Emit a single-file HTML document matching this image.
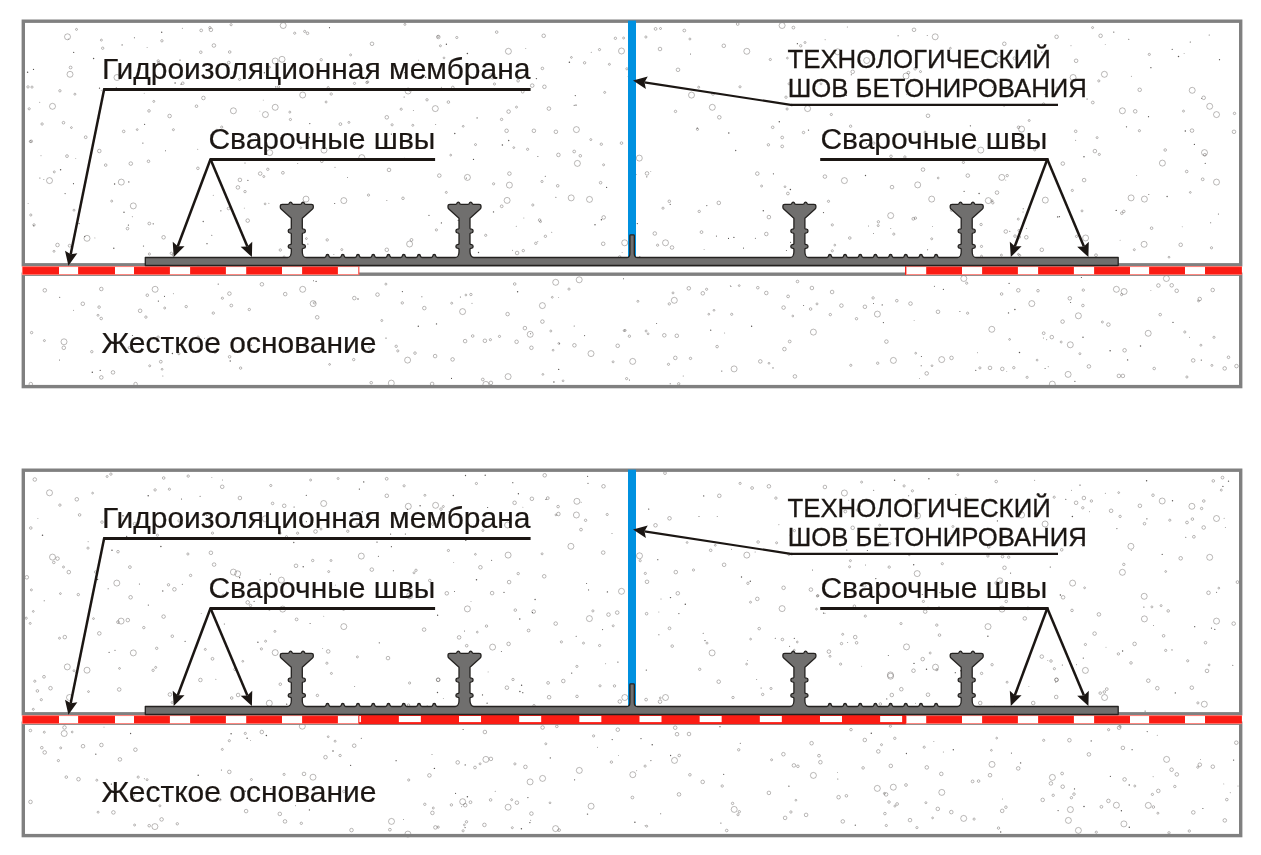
<!DOCTYPE html>
<html lang="ru"><head><meta charset="utf-8"><title>Гидроизоляционная мембрана</title>
<style>html,body{margin:0;padding:0;background:#fff}svg{display:block;will-change:transform}</style></head>
<body><svg width="1261" height="855" viewBox="0 0 1261 855"><g><rect x="23.3" y="21.2" width="1217.4" height="243.6" fill="#fff"/><rect x="23.3" y="274.2" width="1217.4" height="112.4" fill="#fff"/><g fill="none" stroke="#4c4846" stroke-width="0.38"><circle cx="67.5" cy="36.8" r="3"/><circle cx="70.0" cy="74.3" r="3"/><circle cx="52.5" cy="106.3" r="3"/><circle cx="49.5" cy="180.6" r="3"/><circle cx="121.3" cy="182.1" r="3"/><circle cx="133.3" cy="205.9" r="3"/><circle cx="117.0" cy="77.5" r="3"/><circle cx="283.2" cy="25.5" r="3"/><circle cx="282.0" cy="59.3" r="3"/><circle cx="275.2" cy="61.0" r="3"/><circle cx="302.7" cy="95.0" r="3"/><circle cx="275.2" cy="107.3" r="3"/><circle cx="233.4" cy="110.8" r="3"/><circle cx="265.4" cy="114.6" r="3"/><circle cx="324.0" cy="150.1" r="3"/><circle cx="269.7" cy="152.6" r="3"/><circle cx="306.0" cy="199.1" r="3"/><circle cx="508.4" cy="51.3" r="3"/><circle cx="621.5" cy="51.0" r="3"/><circle cx="435.3" cy="108.6" r="3"/><circle cx="576.4" cy="129.6" r="3"/><circle cx="577.4" cy="163.4" r="3"/><circle cx="467.4" cy="177.4" r="3"/><circle cx="509.4" cy="185.1" r="3"/><circle cx="507.1" cy="200.4" r="3"/><circle cx="571.2" cy="197.9" r="3"/><circle cx="589.5" cy="199.4" r="3"/><circle cx="343.8" cy="200.6" r="3"/><circle cx="408.1" cy="91.0" r="3"/><circle cx="361.8" cy="157.6" r="3"/><circle cx="492.6" cy="76.0" r="3"/><circle cx="782.1" cy="25.5" r="3"/><circle cx="935.2" cy="36.8" r="3"/><circle cx="746.8" cy="51.3" r="3"/><circle cx="691.5" cy="95.1" r="3"/><circle cx="712.3" cy="107.3" r="3"/><circle cx="807.6" cy="108.6" r="3"/><circle cx="639.3" cy="158.1" r="3"/><circle cx="844.4" cy="180.6" r="3"/><circle cx="917.7" cy="184.9" r="3"/><circle cx="931.7" cy="199.1" r="3"/><circle cx="890.7" cy="215.6" r="3"/><circle cx="906.0" cy="76.0" r="3"/><circle cx="866.7" cy="60.5" r="3"/><circle cx="837.7" cy="51.8" r="3"/><circle cx="1104.4" cy="74.3" r="3"/><circle cx="1192.2" cy="90.3" r="3"/><circle cx="1209.7" cy="106.3" r="3"/><circle cx="1216.5" cy="114.6" r="3"/><circle cx="1122.4" cy="110.8" r="3"/><circle cx="1204.5" cy="152.6" r="3"/><circle cx="1162.4" cy="163.1" r="3"/><circle cx="1216.5" cy="182.1" r="3"/><circle cx="1131.1" cy="197.9" r="3"/><circle cx="1144.4" cy="199.1" r="3"/><circle cx="1045.3" cy="200.1" r="3"/><circle cx="1001.8" cy="177.4" r="3"/><circle cx="988.3" cy="200.6" r="3"/><circle cx="1021.6" cy="129.1" r="3"/><circle cx="980.8" cy="150.1" r="3"/><circle cx="1073.1" cy="77.5" r="3"/><circle cx="1000.0" cy="59.3" r="3"/><circle cx="87.0" cy="238.3" r="3"/><circle cx="155.1" cy="289.3" r="3"/><circle cx="302.7" cy="289.3" r="3"/><circle cx="313.2" cy="303.6" r="3"/><circle cx="64.0" cy="341.8" r="3"/><circle cx="409.6" cy="244.0" r="3"/><circle cx="624.7" cy="242.8" r="3"/><circle cx="555.7" cy="282.3" r="3"/><circle cx="579.2" cy="279.8" r="3"/><circle cx="542.4" cy="305.6" r="3"/><circle cx="462.6" cy="311.6" r="3"/><circle cx="530.2" cy="334.3" r="3"/><circle cx="407.6" cy="360.1" r="3"/><circle cx="591.0" cy="353.6" r="3"/><circle cx="632.7" cy="361.4" r="3"/><circle cx="508.1" cy="376.6" r="3"/><circle cx="391.3" cy="383.1" r="3"/><circle cx="485.9" cy="384.4" r="3"/><circle cx="665.5" cy="242.8" r="3"/><circle cx="674.3" cy="300.3" r="3"/><circle cx="813.4" cy="332.1" r="3"/><circle cx="877.4" cy="314.1" r="3"/><circle cx="893.4" cy="360.4" r="3"/><circle cx="734.1" cy="368.9" r="3"/><circle cx="941.7" cy="359.6" r="3"/><circle cx="1144.1" cy="244.3" r="3"/><circle cx="1085.6" cy="238.0" r="3"/><circle cx="963.8" cy="278.5" r="3"/><circle cx="1166.4" cy="278.5" r="3"/><circle cx="1116.4" cy="289.3" r="3"/><circle cx="1124.1" cy="291.5" r="3"/><circle cx="1031.8" cy="303.6" r="3"/><circle cx="1078.4" cy="315.8" r="3"/><circle cx="991.8" cy="329.3" r="3"/><circle cx="1148.2" cy="333.3" r="3"/><circle cx="1070.3" cy="344.8" r="3"/><circle cx="1068.1" cy="374.4" r="3"/><circle cx="1052.3" cy="384.1" r="3"/><circle cx="213.9" cy="45.5" r="1.8"/><circle cx="210.9" cy="29.8" r="1.8"/><circle cx="203.4" cy="98.0" r="1.8"/><circle cx="169.6" cy="116.0" r="1.8"/><circle cx="99.3" cy="151.0" r="1.8"/><circle cx="130.8" cy="163.6" r="1.8"/><circle cx="260.2" cy="173.6" r="1.8"/><circle cx="239.9" cy="179.9" r="1.8"/><circle cx="237.9" cy="187.4" r="1.8"/><circle cx="247.7" cy="220.6" r="1.8"/><circle cx="372.0" cy="43.8" r="1.8"/><circle cx="438.3" cy="37.0" r="1.8"/><circle cx="386.8" cy="117.3" r="1.8"/><circle cx="508.6" cy="111.6" r="1.8"/><circle cx="533.9" cy="130.8" r="1.8"/><circle cx="555.9" cy="131.8" r="1.8"/><circle cx="558.4" cy="154.9" r="1.8"/><circle cx="439.3" cy="175.6" r="1.8"/><circle cx="389.0" cy="169.9" r="1.8"/><circle cx="509.4" cy="173.6" r="1.8"/><circle cx="506.6" cy="130.8" r="1.8"/><circle cx="603.7" cy="217.4" r="1.8"/><circle cx="532.2" cy="85.6" r="1.8"/><circle cx="544.4" cy="86.8" r="1.8"/><circle cx="543.7" cy="35.8" r="1.8"/><circle cx="548.9" cy="108.6" r="1.8"/><circle cx="660.0" cy="49.0" r="1.8"/><circle cx="723.8" cy="45.8" r="1.8"/><circle cx="678.0" cy="69.8" r="1.8"/><circle cx="719.3" cy="117.3" r="1.8"/><circle cx="647.0" cy="173.4" r="1.8"/><circle cx="757.3" cy="173.6" r="1.8"/><circle cx="824.9" cy="176.6" r="1.8"/><circle cx="892.0" cy="187.1" r="1.8"/><circle cx="923.0" cy="169.6" r="1.8"/><circle cx="768.9" cy="217.1" r="1.8"/><circle cx="718.8" cy="202.9" r="1.8"/><circle cx="928.0" cy="115.8" r="1.8"/><circle cx="914.0" cy="29.8" r="1.8"/><circle cx="852.7" cy="71.8" r="1.8"/><circle cx="1056.6" cy="36.8" r="1.8"/><circle cx="1076.1" cy="60.8" r="1.8"/><circle cx="1139.7" cy="89.8" r="1.8"/><circle cx="1203.7" cy="97.8" r="1.8"/><circle cx="1192.0" cy="130.6" r="1.8"/><circle cx="1234.0" cy="131.8" r="1.8"/><circle cx="1094.9" cy="151.1" r="1.8"/><circle cx="1084.1" cy="180.1" r="1.8"/><circle cx="1062.8" cy="163.6" r="1.8"/><circle cx="967.8" cy="175.6" r="1.8"/><circle cx="997.0" cy="192.6" r="1.8"/><circle cx="1135.2" cy="111.3" r="1.8"/><circle cx="1100.6" cy="35.8" r="1.8"/><circle cx="1004.3" cy="43.8" r="1.8"/><circle cx="57.5" cy="245.0" r="1.8"/><circle cx="163.6" cy="237.3" r="1.8"/><circle cx="44.8" cy="290.3" r="1.8"/><circle cx="82.8" cy="303.8" r="1.8"/><circle cx="140.1" cy="310.8" r="1.8"/><circle cx="229.4" cy="293.6" r="1.8"/><circle cx="261.9" cy="284.3" r="1.8"/><circle cx="285.2" cy="294.1" r="1.8"/><circle cx="63.8" cy="347.8" r="1.8"/><circle cx="101.3" cy="289.0" r="1.8"/><circle cx="113.0" cy="372.4" r="1.8"/><circle cx="101.3" cy="377.4" r="1.8"/><circle cx="135.6" cy="384.1" r="1.8"/><circle cx="30.8" cy="384.1" r="1.8"/><circle cx="317.2" cy="317.3" r="1.8"/><circle cx="386.8" cy="249.8" r="1.8"/><circle cx="603.2" cy="243.8" r="1.8"/><circle cx="354.3" cy="298.1" r="1.8"/><circle cx="465.1" cy="341.1" r="1.8"/><circle cx="484.9" cy="340.8" r="1.8"/><circle cx="516.6" cy="341.8" r="1.8"/><circle cx="542.4" cy="321.6" r="1.8"/><circle cx="524.9" cy="328.1" r="1.8"/><circle cx="617.7" cy="345.8" r="1.8"/><circle cx="432.1" cy="383.9" r="1.8"/><circle cx="490.9" cy="382.9" r="1.8"/><circle cx="507.6" cy="314.1" r="1.8"/><circle cx="424.3" cy="308.1" r="1.8"/><circle cx="377.5" cy="294.6" r="1.8"/><circle cx="531.4" cy="347.8" r="1.8"/><circle cx="435.1" cy="356.1" r="1.8"/><circle cx="452.6" cy="359.4" r="1.8"/><circle cx="574.4" cy="345.3" r="1.8"/><circle cx="517.1" cy="253.0" r="1.8"/><circle cx="688.8" cy="288.3" r="1.8"/><circle cx="702.8" cy="293.3" r="1.8"/><circle cx="676.8" cy="335.8" r="1.8"/><circle cx="675.3" cy="357.9" r="1.8"/><circle cx="811.9" cy="288.0" r="1.8"/><circle cx="783.6" cy="307.6" r="1.8"/><circle cx="864.9" cy="306.8" r="1.8"/><circle cx="910.5" cy="303.6" r="1.8"/><circle cx="938.0" cy="311.8" r="1.8"/><circle cx="886.4" cy="341.6" r="1.8"/><circle cx="951.5" cy="357.9" r="1.8"/><circle cx="926.7" cy="373.4" r="1.8"/><circle cx="784.4" cy="349.1" r="1.8"/><circle cx="794.9" cy="376.4" r="1.8"/><circle cx="841.4" cy="305.6" r="1.8"/><circle cx="672.0" cy="247.5" r="1.8"/><circle cx="654.8" cy="233.5" r="1.8"/><circle cx="766.3" cy="234.0" r="1.8"/><circle cx="664.3" cy="335.3" r="1.8"/><circle cx="766.3" cy="293.0" r="1.8"/><circle cx="832.1" cy="292.0" r="1.8"/><circle cx="760.3" cy="361.4" r="1.8"/><circle cx="1005.8" cy="231.5" r="1.8"/><circle cx="1026.3" cy="237.3" r="1.8"/><circle cx="1041.8" cy="249.8" r="1.8"/><circle cx="1180.7" cy="244.8" r="1.8"/><circle cx="1171.7" cy="285.3" r="1.8"/><circle cx="1176.7" cy="290.8" r="1.8"/><circle cx="1212.7" cy="290.0" r="1.8"/><circle cx="1199.7" cy="299.0" r="1.8"/><circle cx="1108.4" cy="324.6" r="1.8"/><circle cx="1124.6" cy="350.3" r="1.8"/><circle cx="1193.2" cy="360.4" r="1.8"/><circle cx="1236.5" cy="366.1" r="1.8"/><circle cx="1088.9" cy="366.4" r="1.8"/><circle cx="1118.9" cy="375.9" r="1.8"/><circle cx="1122.9" cy="375.9" r="1.8"/><circle cx="990.0" cy="367.9" r="1.8"/><circle cx="1002.3" cy="368.9" r="1.8"/><circle cx="1018.3" cy="290.3" r="1.8"/><circle cx="1069.8" cy="298.3" r="1.8"/><circle cx="1062.6" cy="321.6" r="1.8"/><circle cx="1051.8" cy="337.1" r="1.8"/><circle cx="1224.7" cy="368.4" r="1.8"/><circle cx="1158.4" cy="285.5" r="1.8"/><circle cx="675.5" cy="111.4" r="1.2"/><circle cx="71.4" cy="127.6" r="0.9"/><circle cx="540.5" cy="221.6" r="1.0"/><circle cx="200.8" cy="52.2" r="1.3"/><circle cx="689.9" cy="39.0" r="1.0"/><circle cx="850.6" cy="126.2" r="1.2"/><circle cx="321.8" cy="161.3" r="1.3"/><circle cx="532.8" cy="205.0" r="1.1"/><circle cx="600.6" cy="182.7" r="1.3"/><circle cx="493.6" cy="183.8" r="1.1"/><circle cx="229.7" cy="52.0" r="1.3"/><circle cx="182.8" cy="83.2" r="1.3"/><circle cx="123.7" cy="131.4" r="1.3"/><circle cx="1019.0" cy="230.5" r="1.1"/><circle cx="239.6" cy="79.4" r="1.1"/><circle cx="740.0" cy="86.8" r="1.1"/><circle cx="501.6" cy="119.4" r="1.2"/><circle cx="101.4" cy="40.1" r="1.0"/><circle cx="438.1" cy="36.6" r="1.0"/><circle cx="149.0" cy="110.9" r="1.3"/><circle cx="770.3" cy="59.5" r="1.1"/><circle cx="590.8" cy="139.6" r="1.0"/><circle cx="54.0" cy="251.3" r="1.0"/><circle cx="684.3" cy="30.5" r="1.4"/><circle cx="1072.3" cy="190.4" r="1.1"/><circle cx="228.5" cy="208.5" r="1.3"/><circle cx="300.8" cy="147.7" r="0.9"/><circle cx="59.9" cy="90.8" r="1.2"/><circle cx="1183.5" cy="111.1" r="1.0"/><circle cx="935.2" cy="138.2" r="1.3"/><circle cx="450.7" cy="155.1" r="0.9"/><circle cx="1202.7" cy="179.3" r="1.4"/><circle cx="331.2" cy="94.0" r="1.2"/><circle cx="340.4" cy="124.1" r="1.4"/><circle cx="535.8" cy="243.3" r="1.2"/><circle cx="660.5" cy="28.5" r="1.0"/><circle cx="30.8" cy="215.0" r="1.1"/><circle cx="904.9" cy="157.0" r="1.2"/><circle cx="699.2" cy="211.4" r="1.2"/><circle cx="768.4" cy="144.8" r="1.2"/><circle cx="574.2" cy="151.5" r="1.4"/><circle cx="173.4" cy="129.7" r="1.0"/><circle cx="1096.0" cy="255.2" r="1.4"/><circle cx="221.7" cy="127.1" r="1.1"/><circle cx="697.5" cy="129.3" r="1.1"/><circle cx="782.2" cy="146.4" r="1.4"/><circle cx="981.5" cy="256.2" r="1.0"/><circle cx="74.0" cy="210.2" r="1.0"/><circle cx="127.5" cy="228.6" r="1.3"/><circle cx="350.6" cy="54.9" r="1.0"/><circle cx="158.7" cy="62.6" r="1.0"/><circle cx="632.1" cy="66.5" r="0.9"/><circle cx="1018.5" cy="127.3" r="1.3"/><circle cx="516.5" cy="107.1" r="1.0"/><circle cx="111.7" cy="201.1" r="1.0"/><circle cx="367.7" cy="81.9" r="1.1"/><circle cx="216.9" cy="130.6" r="1.4"/><circle cx="1204.8" cy="154.8" r="1.4"/><circle cx="401.2" cy="109.2" r="1.1"/><circle cx="601.3" cy="144.2" r="1.2"/><circle cx="32.0" cy="87.1" r="1.1"/><circle cx="76.5" cy="29.4" r="1.0"/><circle cx="893.8" cy="234.1" r="1.1"/><circle cx="915.4" cy="218.1" r="1.2"/><circle cx="304.7" cy="31.4" r="1.1"/><circle cx="785.0" cy="186.7" r="0.9"/><circle cx="992.8" cy="202.8" r="1.2"/><circle cx="922.7" cy="257.2" r="1.1"/><circle cx="805.0" cy="42.5" r="1.0"/><circle cx="845.0" cy="93.5" r="1.1"/><circle cx="1211.5" cy="247.8" r="1.1"/><circle cx="1019.7" cy="255.4" r="1.0"/><circle cx="280.3" cy="250.0" r="1.2"/><circle cx="306.4" cy="238.6" r="0.9"/><circle cx="30.4" cy="141.5" r="1.1"/><circle cx="196.5" cy="106.2" r="1.3"/><circle cx="463.2" cy="126.3" r="0.9"/><circle cx="149.3" cy="223.5" r="1.4"/><circle cx="328.2" cy="87.5" r="1.0"/><circle cx="938.2" cy="178.0" r="0.9"/><circle cx="1149.3" cy="54.4" r="1.1"/><circle cx="228.8" cy="62.6" r="1.4"/><circle cx="571.4" cy="57.4" r="0.9"/><circle cx="440.4" cy="45.8" r="1.0"/><circle cx="527.6" cy="149.3" r="1.1"/><circle cx="354.5" cy="83.4" r="1.1"/><circle cx="737.7" cy="24.0" r="1.4"/><circle cx="158.2" cy="60.9" r="1.2"/><circle cx="580.3" cy="155.8" r="1.3"/><circle cx="161.9" cy="40.8" r="1.2"/><circle cx="1097.1" cy="137.6" r="1.0"/><circle cx="1190.3" cy="192.4" r="0.9"/><circle cx="630.0" cy="185.2" r="1.0"/><circle cx="834.8" cy="245.1" r="0.9"/><circle cx="992.0" cy="200.7" r="1.0"/><circle cx="294.4" cy="205.8" r="1.4"/><circle cx="626.9" cy="68.8" r="1.1"/><circle cx="832.3" cy="250.8" r="1.1"/><circle cx="284.1" cy="256.8" r="0.9"/><circle cx="831.3" cy="114.5" r="1.1"/><circle cx="231.1" cy="24.7" r="1.1"/><circle cx="85.7" cy="137.2" r="1.4"/><circle cx="931.7" cy="238.8" r="1.0"/><circle cx="1186.7" cy="171.5" r="1.3"/><circle cx="409.6" cy="89.9" r="1.3"/><circle cx="494.5" cy="84.0" r="1.1"/><circle cx="265.1" cy="203.9" r="0.9"/><circle cx="67.0" cy="156.1" r="1.4"/><circle cx="1096.8" cy="260.1" r="0.9"/><circle cx="920.5" cy="71.6" r="1.0"/><circle cx="506.0" cy="261.2" r="1.0"/><circle cx="74.9" cy="94.2" r="1.0"/><circle cx="1075.7" cy="131.3" r="1.3"/><circle cx="289.8" cy="112.1" r="1.0"/><circle cx="102.7" cy="48.2" r="1.2"/><circle cx="800.7" cy="45.8" r="1.2"/><circle cx="522.7" cy="91.7" r="1.4"/><circle cx="404.6" cy="159.4" r="1.1"/><circle cx="1073.5" cy="262.2" r="1.0"/><circle cx="908.4" cy="72.7" r="1.4"/><circle cx="539.6" cy="220.1" r="1.3"/><circle cx="584.6" cy="62.8" r="1.2"/><circle cx="802.5" cy="241.4" r="1.2"/><circle cx="475.5" cy="144.6" r="1.0"/><circle cx="657.6" cy="245.2" r="1.1"/><circle cx="1001.4" cy="255.1" r="1.0"/><circle cx="1169.0" cy="257.2" r="0.9"/><circle cx="290.4" cy="119.5" r="1.1"/><circle cx="786.0" cy="97.2" r="1.2"/><circle cx="542.0" cy="181.5" r="1.1"/><circle cx="54.3" cy="171.9" r="1.0"/><circle cx="951.4" cy="210.4" r="1.0"/><circle cx="599.5" cy="49.6" r="1.1"/><circle cx="137.2" cy="129.6" r="0.9"/><circle cx="645.9" cy="37.0" r="1.1"/><circle cx="913.3" cy="218.8" r="1.4"/><circle cx="981.5" cy="246.4" r="1.1"/><circle cx="1014.5" cy="58.3" r="1.4"/><circle cx="278.5" cy="86.8" r="1.1"/><circle cx="70.6" cy="67.5" r="1.4"/><circle cx="849.8" cy="238.0" r="1.3"/><circle cx="462.6" cy="206.7" r="1.0"/><circle cx="404.9" cy="24.4" r="1.0"/><circle cx="772.7" cy="127.3" r="1.3"/><circle cx="29.2" cy="108.8" r="1.1"/><circle cx="782.2" cy="137.5" r="1.4"/><circle cx="321.2" cy="59.7" r="1.2"/><circle cx="1082.0" cy="210.9" r="1.0"/><circle cx="327.2" cy="239.9" r="1.2"/><circle cx="518.1" cy="80.8" r="1.3"/><circle cx="267.8" cy="169.3" r="1.2"/><circle cx="1011.8" cy="65.7" r="1.1"/><circle cx="925.0" cy="132.1" r="1.0"/><circle cx="307.5" cy="33.3" r="1.3"/><circle cx="1092.6" cy="27.6" r="1.0"/><circle cx="1092.8" cy="102.5" r="1.4"/><circle cx="282.9" cy="172.8" r="1.4"/><circle cx="201.2" cy="30.4" r="1.4"/><circle cx="444.0" cy="57.9" r="0.9"/><circle cx="105.7" cy="165.1" r="1.3"/><circle cx="1019.3" cy="237.0" r="1.3"/><circle cx="1134.3" cy="249.7" r="1.0"/><circle cx="412.8" cy="125.3" r="1.0"/><circle cx="368.5" cy="195.1" r="1.1"/><circle cx="63.5" cy="122.7" r="1.3"/><circle cx="446.3" cy="192.4" r="1.0"/><circle cx="31.3" cy="141.3" r="1.3"/><circle cx="249.6" cy="142.2" r="1.3"/><circle cx="341.8" cy="249.6" r="1.0"/><circle cx="873.8" cy="143.1" r="1.2"/><circle cx="787.1" cy="109.0" r="1.1"/><circle cx="485.7" cy="235.3" r="1.1"/><circle cx="448.4" cy="102.1" r="1.3"/><circle cx="828.5" cy="201.3" r="1.1"/><circle cx="963.4" cy="162.4" r="1.1"/><circle cx="1098.8" cy="80.9" r="1.1"/><circle cx="878.2" cy="225.6" r="1.0"/><circle cx="326.1" cy="102.0" r="1.0"/><circle cx="149.4" cy="254.0" r="1.1"/><circle cx="263.8" cy="176.5" r="1.0"/><circle cx="496.7" cy="32.1" r="1.3"/><circle cx="197.9" cy="168.3" r="1.3"/><circle cx="803.5" cy="132.5" r="1.2"/><circle cx="789.1" cy="83.8" r="1.1"/><circle cx="619.7" cy="256.9" r="1.2"/><circle cx="148.5" cy="161.3" r="1.3"/><circle cx="523.3" cy="250.6" r="1.2"/><circle cx="501.7" cy="206.3" r="1.4"/><circle cx="456.8" cy="37.5" r="1.1"/><circle cx="42.1" cy="124.0" r="1.2"/><circle cx="452.8" cy="87.4" r="1.3"/><circle cx="1165.2" cy="150.0" r="1.3"/><circle cx="501.1" cy="74.7" r="1.3"/><circle cx="1007.2" cy="175.6" r="1.2"/><circle cx="299.9" cy="254.4" r="1.2"/><circle cx="1018.3" cy="219.1" r="1.0"/><circle cx="1057.0" cy="87.9" r="1.0"/><circle cx="542.4" cy="68.4" r="1.3"/><circle cx="366.8" cy="82.5" r="1.1"/><circle cx="1151.6" cy="228.2" r="1.3"/><circle cx="1123.8" cy="211.4" r="1.3"/><circle cx="793.4" cy="27.6" r="1.4"/><circle cx="821.0" cy="83.8" r="1.0"/><circle cx="309.2" cy="209.5" r="1.0"/><circle cx="1121.8" cy="213.2" r="1.3"/><circle cx="981.1" cy="224.5" r="1.2"/><circle cx="669.3" cy="201.3" r="1.3"/><circle cx="698.7" cy="87.2" r="1.0"/><circle cx="623.6" cy="38.0" r="1.0"/><circle cx="621.5" cy="143.1" r="1.3"/><circle cx="34.0" cy="224.9" r="1.2"/><circle cx="832.3" cy="224.9" r="1.1"/><circle cx="426.5" cy="258.6" r="1.1"/><circle cx="436.4" cy="229.9" r="1.1"/><circle cx="663.0" cy="208.2" r="1.1"/><circle cx="1029.2" cy="120.5" r="1.0"/><circle cx="427.0" cy="99.8" r="1.2"/><circle cx="795.4" cy="211.4" r="1.3"/><circle cx="1099.3" cy="154.4" r="1.1"/><circle cx="950.4" cy="48.2" r="0.9"/><circle cx="392.1" cy="124.8" r="1.1"/><circle cx="803.8" cy="247.2" r="1.2"/><circle cx="1139.4" cy="130.7" r="1.1"/><circle cx="209.9" cy="27.7" r="1.2"/><circle cx="173.5" cy="255.0" r="1.3"/><circle cx="915.1" cy="68.8" r="1.3"/><circle cx="787.9" cy="193.5" r="1.4"/><circle cx="403.0" cy="198.3" r="1.3"/><circle cx="615.4" cy="38.3" r="1.2"/><circle cx="557.7" cy="185.8" r="1.3"/><circle cx="713.0" cy="93.9" r="1.4"/><circle cx="878.4" cy="221.8" r="1.2"/><circle cx="545.4" cy="236.3" r="1.2"/><circle cx="28.0" cy="86.9" r="1.2"/><circle cx="1015.0" cy="236.1" r="1.3"/><circle cx="761.6" cy="186.0" r="1.0"/><circle cx="603.6" cy="164.8" r="1.0"/><circle cx="245.0" cy="191.6" r="1.2"/><circle cx="513.8" cy="147.6" r="0.9"/><circle cx="1234.5" cy="113.4" r="1.2"/><circle cx="655.6" cy="28.9" r="1.4"/><circle cx="1018.4" cy="254.3" r="0.9"/><circle cx="269.6" cy="67.2" r="0.9"/><circle cx="701.5" cy="232.1" r="1.4"/><circle cx="171.3" cy="253.3" r="1.2"/><circle cx="294.7" cy="33.2" r="1.1"/><circle cx="153.8" cy="101.4" r="1.0"/><circle cx="609.4" cy="64.3" r="1.0"/><circle cx="69.6" cy="245.7" r="1.4"/><circle cx="1076.5" cy="236.4" r="1.1"/><circle cx="787.4" cy="58.1" r="0.9"/><circle cx="891.0" cy="156.3" r="1.3"/><circle cx="348.9" cy="122.4" r="1.0"/><circle cx="1043.6" cy="103.9" r="1.1"/><circle cx="411.5" cy="239.9" r="1.4"/><circle cx="604.7" cy="92.4" r="1.0"/><circle cx="1004.1" cy="105.5" r="0.9"/><circle cx="1034.7" cy="149.9" r="1.1"/><circle cx="1009.6" cy="339.4" r="0.9"/><circle cx="1082.9" cy="305.5" r="1.3"/><circle cx="470.9" cy="294.5" r="1.2"/><circle cx="31.6" cy="332.6" r="1.2"/><circle cx="415.0" cy="353.1" r="1.3"/><circle cx="648.1" cy="333.8" r="0.9"/><circle cx="1198.5" cy="300.9" r="1.0"/><circle cx="329.6" cy="364.4" r="0.9"/><circle cx="873.1" cy="297.9" r="1.2"/><circle cx="1079.9" cy="353.7" r="1.0"/><circle cx="624.2" cy="330.6" r="1.0"/><circle cx="1027.1" cy="377.3" r="1.1"/><circle cx="1043.7" cy="333.2" r="1.4"/><circle cx="967.6" cy="313.2" r="1.1"/><circle cx="1013.8" cy="367.7" r="1.2"/><circle cx="1186.9" cy="377.0" r="1.1"/><circle cx="792.8" cy="316.0" r="0.9"/><circle cx="550.8" cy="331.0" r="1.0"/><circle cx="396.2" cy="346.3" r="1.2"/><circle cx="1184.8" cy="332.0" r="1.1"/><circle cx="673.0" cy="292.9" r="1.0"/><circle cx="381.8" cy="320.5" r="1.0"/><circle cx="717.1" cy="346.6" r="1.3"/><circle cx="402.3" cy="302.9" r="1.2"/><circle cx="490.4" cy="339.7" r="1.1"/><circle cx="371.2" cy="382.7" r="1.3"/><circle cx="101.2" cy="318.5" r="1.3"/><circle cx="213.3" cy="313.1" r="1.2"/><circle cx="499.5" cy="336.4" r="1.1"/><circle cx="979.9" cy="367.9" r="1.1"/><circle cx="249.3" cy="309.5" r="1.2"/><circle cx="542.9" cy="374.4" r="0.9"/><circle cx="678.7" cy="383.8" r="1.2"/><circle cx="856.5" cy="318.7" r="1.2"/><circle cx="145.9" cy="317.1" r="1.2"/><circle cx="668.5" cy="364.3" r="1.1"/><circle cx="1211.9" cy="365.4" r="1.0"/><circle cx="1102.4" cy="322.0" r="1.0"/><circle cx="646.1" cy="331.0" r="1.0"/><circle cx="789.7" cy="341.5" r="1.4"/><circle cx="797.5" cy="281.5" r="1.3"/><circle cx="397.8" cy="350.9" r="1.1"/><circle cx="629.4" cy="336.2" r="1.2"/><circle cx="147.3" cy="295.2" r="1.3"/><circle cx="769.0" cy="363.3" r="0.9"/><circle cx="231.3" cy="305.5" r="1.4"/><circle cx="731.7" cy="314.3" r="1.1"/><circle cx="558.8" cy="343.4" r="0.9"/><circle cx="1154.2" cy="368.5" r="1.3"/><circle cx="626.6" cy="378.6" r="1.1"/><circle cx="896.8" cy="300.7" r="1.3"/><circle cx="613.1" cy="361.8" r="1.0"/><circle cx="706.6" cy="289.3" r="1.1"/><circle cx="514.7" cy="284.0" r="1.3"/><circle cx="451.7" cy="303.2" r="1.0"/><circle cx="214.9" cy="352.5" r="1.0"/><circle cx="1038.0" cy="290.7" r="1.3"/><circle cx="1001.6" cy="294.0" r="1.3"/><circle cx="482.8" cy="379.5" r="1.4"/><circle cx="637.9" cy="301.3" r="1.0"/><circle cx="1083.3" cy="290.1" r="1.2"/><circle cx="353.7" cy="359.6" r="1.2"/><circle cx="714.0" cy="310.3" r="0.9"/><circle cx="240.6" cy="368.1" r="1.2"/><circle cx="158.1" cy="337.1" r="1.2"/><circle cx="385.9" cy="284.1" r="1.0"/><circle cx="178.9" cy="353.7" r="1.1"/><circle cx="186.2" cy="306.6" r="1.2"/><circle cx="830.3" cy="314.6" r="1.2"/><circle cx="788.1" cy="296.4" r="1.4"/><circle cx="915.7" cy="353.2" r="0.9"/><circle cx="222.4" cy="298.2" r="1.1"/><circle cx="553.1" cy="350.2" r="0.9"/><circle cx="1037.1" cy="360.1" r="0.9"/><circle cx="1061.2" cy="342.0" r="1.0"/><circle cx="160.8" cy="361.7" r="1.4"/><circle cx="932.0" cy="365.7" r="0.9"/><circle cx="91.8" cy="351.7" r="1.2"/><circle cx="877.7" cy="363.2" r="1.2"/><circle cx="1200.9" cy="345.2" r="1.0"/><circle cx="98.0" cy="315.3" r="1.0"/><circle cx="314.3" cy="302.9" r="1.1"/><circle cx="1160.2" cy="314.6" r="1.3"/><circle cx="198.0" cy="337.3" r="1.3"/><circle cx="690.5" cy="358.4" r="1.2"/><circle cx="164.7" cy="308.0" r="1.0"/><circle cx="99.1" cy="307.1" r="1.3"/><circle cx="569.0" cy="289.1" r="1.1"/><circle cx="465.9" cy="295.0" r="0.9"/><circle cx="1228.5" cy="357.3" r="1.3"/><circle cx="1214.0" cy="337.3" r="1.1"/><circle cx="552.3" cy="297.3" r="0.9"/><circle cx="817.0" cy="303.9" r="1.0"/><circle cx="472.7" cy="336.0" r="1.3"/><circle cx="625.2" cy="330.4" r="1.0"/><circle cx="563.1" cy="380.8" r="0.9"/><circle cx="369.3" cy="347.8" r="1.1"/><circle cx="1121.6" cy="294.6" r="1.1"/><circle cx="708.8" cy="314.2" r="0.9"/><circle cx="810.6" cy="309.0" r="1.3"/><circle cx="129.3" cy="347.7" r="1.2"/><circle cx="162.1" cy="369.3" r="0.9"/><circle cx="669.3" cy="303.9" r="1.2"/><circle cx="300.6" cy="338.3" r="1.2"/><circle cx="739.2" cy="285.6" r="0.9"/><circle cx="149.7" cy="365.8" r="1.0"/><circle cx="966.7" cy="283.2" r="1.1"/><circle cx="44.4" cy="340.6" r="1.0"/><circle cx="229.6" cy="356.8" r="1.3"/><circle cx="850.8" cy="365.3" r="1.1"/><circle cx="757.8" cy="287.7" r="1.3"/></g><g fill="#5a5654"><circle cx="418.5" cy="60.1" r="0.43"/><circle cx="786.4" cy="250.5" r="0.54"/><circle cx="1209.2" cy="35.1" r="0.50"/><circle cx="245.0" cy="163.0" r="0.53"/><circle cx="575.3" cy="95.6" r="0.64"/><circle cx="910.1" cy="92.8" r="0.44"/><circle cx="73.5" cy="183.7" r="0.60"/><circle cx="1087.1" cy="99.0" r="0.61"/><circle cx="728.8" cy="133.0" r="0.73"/><circle cx="810.3" cy="261.3" r="0.50"/><circle cx="460.8" cy="235.3" r="0.45"/><circle cx="473.5" cy="159.4" r="0.64"/><circle cx="650.8" cy="171.6" r="0.42"/><circle cx="1116.2" cy="210.4" r="0.68"/><circle cx="467.4" cy="53.4" r="0.75"/><circle cx="441.3" cy="87.3" r="0.46"/><circle cx="425.6" cy="77.3" r="0.74"/><circle cx="1059.4" cy="216.7" r="0.66"/><circle cx="1185.3" cy="130.9" r="0.75"/><circle cx="264.4" cy="72.8" r="0.72"/><circle cx="1044.6" cy="138.6" r="0.68"/><circle cx="128.8" cy="181.9" r="0.67"/><circle cx="429.0" cy="215.4" r="0.54"/><circle cx="512.5" cy="250.3" r="0.46"/><circle cx="180.0" cy="60.1" r="0.68"/><circle cx="203.2" cy="221.5" r="0.63"/><circle cx="551.8" cy="232.3" r="0.47"/><circle cx="454.8" cy="133.5" r="0.72"/><circle cx="327.2" cy="90.2" r="0.58"/><circle cx="706.8" cy="205.6" r="0.56"/><circle cx="873.5" cy="233.5" r="0.49"/><circle cx="704.1" cy="249.4" r="0.45"/><circle cx="114.6" cy="184.0" r="0.71"/><circle cx="213.2" cy="195.2" r="0.45"/><circle cx="508.7" cy="140.5" r="0.69"/><circle cx="263.2" cy="100.1" r="0.41"/><circle cx="537.8" cy="241.8" r="0.49"/><circle cx="207.0" cy="243.7" r="0.65"/><circle cx="134.4" cy="37.7" r="0.55"/><circle cx="113.8" cy="248.3" r="0.68"/><circle cx="576.0" cy="105.1" r="0.72"/><circle cx="404.1" cy="96.9" r="0.50"/><circle cx="329.5" cy="27.7" r="0.59"/><circle cx="255.6" cy="137.5" r="0.44"/><circle cx="502.4" cy="145.1" r="0.74"/><circle cx="441.4" cy="222.9" r="0.62"/><circle cx="128.4" cy="225.1" r="0.63"/><circle cx="735.7" cy="150.5" r="0.63"/><circle cx="1219.5" cy="59.7" r="0.63"/><circle cx="79.1" cy="223.6" r="0.62"/><circle cx="637.3" cy="223.6" r="0.69"/><circle cx="733.9" cy="237.4" r="0.64"/><circle cx="153.2" cy="223.8" r="0.62"/><circle cx="825.1" cy="39.8" r="0.49"/><circle cx="116.2" cy="87.5" r="0.47"/><circle cx="606.6" cy="187.4" r="0.62"/><circle cx="926.8" cy="96.8" r="0.40"/><circle cx="99.5" cy="88.2" r="0.64"/><circle cx="591.2" cy="52.3" r="0.47"/><circle cx="197.8" cy="149.3" r="0.45"/><circle cx="1020.1" cy="145.6" r="0.65"/><circle cx="28.1" cy="203.4" r="0.44"/><circle cx="1148.8" cy="194.4" r="0.50"/><circle cx="477.1" cy="117.9" r="0.61"/><circle cx="478.5" cy="252.5" r="0.68"/><circle cx="790.6" cy="242.3" r="0.59"/><circle cx="898.1" cy="35.8" r="0.56"/><circle cx="386.9" cy="200.6" r="0.49"/><circle cx="821.1" cy="95.9" r="0.54"/><circle cx="628.5" cy="76.6" r="0.75"/><circle cx="716.4" cy="236.1" r="0.54"/><circle cx="101.2" cy="90.3" r="0.44"/><circle cx="636.1" cy="174.5" r="0.48"/><circle cx="1182.2" cy="226.8" r="0.41"/><circle cx="65.1" cy="193.6" r="0.57"/><circle cx="1026.6" cy="228.5" r="0.49"/><circle cx="1167.1" cy="196.5" r="0.67"/><circle cx="307.9" cy="243.9" r="0.51"/><circle cx="181.1" cy="84.2" r="0.64"/><circle cx="496.4" cy="77.4" r="0.40"/><circle cx="391.4" cy="134.1" r="0.63"/><circle cx="435.7" cy="124.5" r="0.47"/><circle cx="1201.5" cy="98.5" r="0.48"/><circle cx="98.9" cy="118.0" r="0.71"/><circle cx="914.1" cy="262.4" r="0.52"/><circle cx="250.8" cy="247.7" r="0.41"/><circle cx="1184.1" cy="53.6" r="0.47"/><circle cx="458.2" cy="220.4" r="0.55"/><circle cx="259.9" cy="111.1" r="0.41"/><circle cx="523.9" cy="218.0" r="0.41"/><circle cx="68.2" cy="39.0" r="0.49"/><circle cx="1136.7" cy="175.5" r="0.41"/><circle cx="309.4" cy="137.6" r="0.73"/><circle cx="1150.9" cy="67.7" r="0.66"/><circle cx="1023.2" cy="208.7" r="0.51"/><circle cx="413.3" cy="110.5" r="0.43"/><circle cx="142.9" cy="143.1" r="0.56"/><circle cx="309.8" cy="123.6" r="0.64"/><circle cx="932.5" cy="226.4" r="0.44"/><circle cx="1045.1" cy="94.2" r="0.53"/><circle cx="211.8" cy="235.3" r="0.51"/><circle cx="1005.8" cy="180.1" r="0.44"/><circle cx="601.4" cy="219.8" r="0.72"/><circle cx="1205.2" cy="163.4" r="0.53"/><circle cx="1172.2" cy="49.3" r="0.62"/><circle cx="335.0" cy="167.3" r="0.47"/><circle cx="39.8" cy="102.2" r="0.46"/><circle cx="404.4" cy="72.6" r="0.59"/><circle cx="1148.5" cy="116.7" r="0.62"/><circle cx="1025.4" cy="62.3" r="0.48"/><circle cx="516.2" cy="226.3" r="0.46"/><circle cx="175.1" cy="83.0" r="0.71"/><circle cx="75.8" cy="158.4" r="0.41"/><circle cx="1041.9" cy="52.1" r="0.59"/><circle cx="797.4" cy="43.7" r="0.67"/><circle cx="1178.5" cy="56.5" r="0.75"/><circle cx="622.1" cy="252.6" r="0.46"/><circle cx="942.5" cy="61.9" r="0.50"/><circle cx="165.5" cy="150.8" r="0.53"/><circle cx="1084.0" cy="156.7" r="0.71"/><circle cx="152.8" cy="261.3" r="0.54"/><circle cx="992.8" cy="87.3" r="0.60"/><circle cx="927.2" cy="35.5" r="0.49"/><circle cx="800.8" cy="259.2" r="0.63"/><circle cx="186.0" cy="78.3" r="0.41"/><circle cx="297.8" cy="163.5" r="0.47"/><circle cx="39.9" cy="178.1" r="0.52"/><circle cx="808.5" cy="130.1" r="0.66"/><circle cx="41.0" cy="155.7" r="0.45"/><circle cx="84.8" cy="236.6" r="0.65"/><circle cx="33.7" cy="225.8" r="0.56"/><circle cx="868.5" cy="226.0" r="0.49"/><circle cx="697.2" cy="128.2" r="0.58"/><circle cx="347.5" cy="177.4" r="0.48"/><circle cx="927.6" cy="249.8" r="0.51"/><circle cx="790.4" cy="189.6" r="0.74"/><circle cx="595.0" cy="224.7" r="0.70"/><circle cx="555.9" cy="197.2" r="0.51"/><circle cx="865.5" cy="175.5" r="0.66"/><circle cx="161.7" cy="32.2" r="0.68"/><circle cx="794.6" cy="221.2" r="0.50"/><circle cx="147.1" cy="47.4" r="0.47"/><circle cx="1194.4" cy="144.4" r="0.62"/><circle cx="1071.0" cy="45.7" r="0.46"/><circle cx="27.6" cy="72.3" r="0.74"/><circle cx="124.0" cy="212.3" r="0.68"/><circle cx="1105.2" cy="44.6" r="0.41"/><circle cx="275.8" cy="86.9" r="0.58"/><circle cx="670.2" cy="204.3" r="0.63"/><circle cx="423.6" cy="69.2" r="0.66"/><circle cx="1218.4" cy="214.0" r="0.55"/><circle cx="866.4" cy="143.6" r="0.56"/><circle cx="1126.5" cy="126.8" r="0.66"/><circle cx="536.4" cy="78.6" r="0.71"/><circle cx="964.1" cy="191.3" r="0.64"/><circle cx="144.6" cy="124.3" r="0.65"/><circle cx="779.3" cy="121.8" r="0.73"/><circle cx="247.9" cy="180.4" r="0.54"/><circle cx="220.9" cy="210.8" r="0.58"/><circle cx="646.8" cy="176.8" r="0.58"/><circle cx="690.5" cy="53.9" r="0.52"/><circle cx="545.3" cy="176.3" r="0.53"/><circle cx="763.3" cy="210.7" r="0.71"/><circle cx="1190.3" cy="42.0" r="0.62"/><circle cx="60.6" cy="169.7" r="0.73"/><circle cx="1113.8" cy="32.1" r="0.62"/><circle cx="537.9" cy="156.4" r="0.50"/><circle cx="639.8" cy="257.0" r="0.68"/><circle cx="33.5" cy="69.4" r="0.61"/><circle cx="823.5" cy="212.6" r="0.61"/><circle cx="773.4" cy="173.8" r="0.61"/><circle cx="851.3" cy="74.8" r="0.56"/><circle cx="964.7" cy="242.5" r="0.53"/><circle cx="1023.0" cy="212.0" r="0.49"/><circle cx="73.7" cy="52.4" r="0.60"/><circle cx="743.5" cy="248.1" r="0.57"/><circle cx="525.8" cy="48.4" r="0.47"/><circle cx="182.3" cy="28.2" r="0.48"/><circle cx="890.8" cy="228.5" r="0.43"/><circle cx="333.9" cy="254.5" r="0.40"/><circle cx="43.9" cy="179.5" r="0.43"/><circle cx="466.3" cy="178.1" r="0.55"/><circle cx="493.5" cy="211.9" r="0.67"/><circle cx="1210.7" cy="222.7" r="0.51"/><circle cx="755.4" cy="238.2" r="0.50"/><circle cx="1009.8" cy="231.3" r="0.50"/><circle cx="1057.6" cy="216.9" r="0.72"/><circle cx="446.4" cy="44.3" r="0.68"/><circle cx="268.9" cy="203.3" r="0.48"/><circle cx="334.7" cy="203.5" r="0.56"/><circle cx="132.3" cy="216.8" r="0.48"/><circle cx="728.5" cy="238.4" r="0.58"/><circle cx="980.3" cy="61.3" r="0.52"/><circle cx="1075.7" cy="140.2" r="0.49"/><circle cx="970.4" cy="125.8" r="0.67"/><circle cx="1128.8" cy="39.3" r="0.54"/><circle cx="802.4" cy="252.6" r="0.54"/><circle cx="569.4" cy="62.2" r="0.75"/><circle cx="1120.1" cy="240.2" r="0.42"/><circle cx="979.1" cy="193.6" r="0.74"/><circle cx="93.6" cy="58.6" r="0.73"/><circle cx="846.4" cy="95.4" r="0.67"/><circle cx="847.3" cy="27.0" r="0.47"/><circle cx="143.5" cy="246.0" r="0.62"/><circle cx="574.2" cy="105.2" r="0.57"/><circle cx="94.9" cy="237.9" r="0.47"/><circle cx="467.5" cy="260.9" r="0.72"/><circle cx="144.2" cy="93.2" r="0.42"/><circle cx="906.5" cy="94.2" r="0.41"/><circle cx="1131.3" cy="76.2" r="0.45"/><circle cx="244.3" cy="208.1" r="0.47"/><circle cx="122.1" cy="44.9" r="0.57"/><circle cx="358.0" cy="299.0" r="0.65"/><circle cx="914.1" cy="320.7" r="0.42"/><circle cx="1008.5" cy="312.9" r="0.70"/><circle cx="623.5" cy="278.7" r="0.57"/><circle cx="172.4" cy="353.5" r="0.70"/><circle cx="100.2" cy="370.4" r="0.57"/><circle cx="724.7" cy="333.0" r="0.44"/><circle cx="517.6" cy="291.7" r="0.70"/><circle cx="204.4" cy="338.3" r="0.46"/><circle cx="553.9" cy="382.0" r="0.72"/><circle cx="1201.3" cy="360.1" r="0.62"/><circle cx="1006.8" cy="371.6" r="0.41"/><circle cx="803.6" cy="305.4" r="0.50"/><circle cx="683.2" cy="375.9" r="0.49"/><circle cx="656.6" cy="323.4" r="0.50"/><circle cx="132.5" cy="335.5" r="0.61"/><circle cx="584.6" cy="335.6" r="0.56"/><circle cx="1070.6" cy="302.5" r="0.57"/><circle cx="218.2" cy="284.1" r="0.55"/><circle cx="158.4" cy="301.1" r="0.66"/><circle cx="773.0" cy="367.9" r="0.58"/><circle cx="921.4" cy="356.5" r="0.57"/><circle cx="977.4" cy="352.8" r="0.44"/><circle cx="1081.4" cy="277.5" r="0.61"/><circle cx="629.4" cy="380.0" r="0.55"/><circle cx="975.8" cy="370.4" r="0.53"/><circle cx="574.2" cy="326.0" r="0.50"/><circle cx="730.9" cy="286.4" r="0.51"/><circle cx="1048.2" cy="366.7" r="0.47"/><circle cx="710.7" cy="330.2" r="0.67"/><circle cx="451.5" cy="378.4" r="0.58"/><circle cx="721.8" cy="371.1" r="0.57"/><circle cx="559.5" cy="343.8" r="0.52"/><circle cx="1110.1" cy="350.8" r="0.75"/><circle cx="1046.7" cy="339.7" r="0.47"/><circle cx="670.2" cy="383.7" r="0.54"/><circle cx="173.3" cy="293.8" r="0.44"/><circle cx="959.9" cy="311.5" r="0.52"/><circle cx="92.3" cy="372.3" r="0.74"/><circle cx="1014.9" cy="309.5" r="0.74"/><circle cx="460.4" cy="297.0" r="0.50"/><circle cx="313.5" cy="280.7" r="0.52"/><circle cx="882.2" cy="304.9" r="0.61"/><circle cx="472.0" cy="303.3" r="0.47"/><circle cx="1127.6" cy="359.9" r="0.70"/><circle cx="873.5" cy="303.6" r="0.52"/><circle cx="73.6" cy="310.3" r="0.46"/><circle cx="1043.4" cy="338.0" r="0.49"/><circle cx="934.4" cy="286.2" r="0.54"/><circle cx="1173.0" cy="322.4" r="0.64"/><circle cx="921.2" cy="365.8" r="0.56"/><circle cx="1150.9" cy="290.7" r="0.42"/><circle cx="402.4" cy="291.6" r="0.63"/><circle cx="751.6" cy="326.3" r="0.69"/><circle cx="1140.5" cy="346.0" r="0.73"/><circle cx="59.5" cy="359.9" r="0.50"/><circle cx="251.1" cy="345.3" r="0.72"/><circle cx="230.2" cy="361.0" r="0.66"/><circle cx="421.9" cy="296.7" r="0.51"/><circle cx="316.1" cy="281.4" r="0.62"/><circle cx="1019.5" cy="352.5" r="0.73"/><circle cx="730.3" cy="285.6" r="0.46"/><circle cx="558.7" cy="297.4" r="0.40"/><circle cx="1045.1" cy="368.5" r="0.55"/><circle cx="436.5" cy="323.9" r="0.69"/><circle cx="418.3" cy="326.3" r="0.72"/><circle cx="1074.9" cy="381.3" r="0.62"/><circle cx="1009.1" cy="283.4" r="0.61"/><circle cx="386.0" cy="338.1" r="0.57"/><circle cx="59.7" cy="297.2" r="0.56"/><circle cx="530.6" cy="333.7" r="0.54"/><circle cx="164.5" cy="296.3" r="0.59"/><circle cx="558.7" cy="369.4" r="0.65"/><circle cx="943.4" cy="289.3" r="0.65"/><circle cx="1189.6" cy="337.2" r="0.45"/><circle cx="883.4" cy="322.6" r="0.62"/><circle cx="1083.0" cy="337.2" r="0.70"/><circle cx="919.5" cy="378.4" r="0.42"/><circle cx="162.9" cy="376.0" r="0.49"/></g><rect x="23.3" y="21.2" width="1217.4" height="243.6" fill="none" stroke="#808080" stroke-width="3.4"/><rect x="23.3" y="274.2" width="1217.4" height="112.4" fill="none" stroke="#808080" stroke-width="3.4"/><rect x="628" y="20.6" width="8" height="245.4" fill="#0091e0"/><rect x="22" y="266.2" width="337.2" height="8.8" fill="#fb1c14"/><rect x="59" y="266.75" width="19.1" height="7.65" fill="#fff"/><rect x="115" y="266.75" width="19" height="7.65" fill="#fff"/><rect x="169.9" y="266.75" width="20.2" height="7.65" fill="#fff"/><rect x="225.9" y="266.75" width="20.3" height="7.65" fill="#fff"/><rect x="282" y="266.75" width="20.1" height="7.65" fill="#fff"/><rect x="337.9" y="266.75" width="20.5" height="7.65" fill="#fff"/><path d="M22 266.6H359.2M22 274.6H359.2" stroke="#ff8f88" stroke-width="0.8" fill="none"/><path d="M22.4 266.2V275" stroke="#ff8f88" stroke-width="0.8"/><path d="M358.8 266.2V275" stroke="#ff6a62" stroke-width="0.8"/><rect x="905.1" y="266.2" width="336.8" height="8.8" fill="#fb1c14"/><rect x="906.4" y="266.75" width="19.8" height="7.65" fill="#fff"/><rect x="962" y="266.75" width="20.1" height="7.65" fill="#fff"/><rect x="1017.9" y="266.75" width="20.2" height="7.65" fill="#fff"/><rect x="1073.9" y="266.75" width="20.2" height="7.65" fill="#fff"/><rect x="1130" y="266.75" width="19.1" height="7.65" fill="#fff"/><rect x="1185" y="266.75" width="20" height="7.65" fill="#fff"/><path d="M905.1 266.6H1241.9M905.1 274.6H1241.9" stroke="#ff8f88" stroke-width="0.8" fill="none"/><path d="M905.5 266.2V275" stroke="#fb1c14" stroke-width="0.8"/><path d="M145.3 265.5L145.3 257.5L287.4 257.5A3.9 5.4 0 0 0 291.3 252.1L291.3 249Q291.1 248.3 289.7 248.2Q288.2 248 288.2 246.4Q288.2 244.8 289.7 244.6Q291.1 244.5 291.3 243.8L291.3 233.6Q291.1 232.9 289.7 232.8Q288.2 232.6 288.2 231Q288.2 229.4 289.7 229.2Q291.1 229.1 291.3 228.4L291.3 218.2L281.1 209Q280.3 208.3 280.3 207.2L280.3 206.2Q280.3 204.4 282.3 204.4L288 204.4Q289.1 204.4 289.3 203.2C289.6 201.7 291.6 201.7 291.9 203.2Q292.1 204.4 293.2 204.4L300.4 204.4Q301.5 204.4 301.7 203.2C302 201.7 304 201.7 304.3 203.2Q304.5 204.4 305.6 204.4L311.3 204.4Q313.3 204.4 313.3 206.2L313.3 207.2Q313.3 208.3 312.5 209L302.3 218.2L302.3 228.4Q302.5 229.1 303.9 229.2Q305.4 229.4 305.4 231Q305.4 232.6 303.9 232.8Q302.5 232.9 302.3 233.6L302.3 243.8Q302.5 244.5 303.9 244.6Q305.4 244.8 305.4 246.4Q305.4 248 303.9 248.2Q302.5 248.3 302.3 249L302.3 252.1A3.9 5.4 0 0 0 306.2 257.5L324.6 257.5Q325.8 257.5 326.05 255.9C326.3 254 328.7 254 328.95 255.9Q329.2 257.5 330.4 257.5L339.85 257.5Q341.05 257.5 341.3 255.9C341.55 254 343.95 254 344.2 255.9Q344.45 257.5 345.65 257.5L355.1 257.5Q356.3 257.5 356.55 255.9C356.8 254 359.2 254 359.45 255.9Q359.7 257.5 360.9 257.5L370.35 257.5Q371.55 257.5 371.8 255.9C372.05 254 374.45 254 374.7 255.9Q374.95 257.5 376.15 257.5L385.6 257.5Q386.8 257.5 387.05 255.9C387.3 254 389.7 254 389.95 255.9Q390.2 257.5 391.4 257.5L400.85 257.5Q402.05 257.5 402.3 255.9C402.55 254 404.95 254 405.2 255.9Q405.45 257.5 406.65 257.5L416.1 257.5Q417.3 257.5 417.55 255.9C417.8 254 420.2 254 420.45 255.9Q420.7 257.5 421.9 257.5L431.35 257.5Q432.55 257.5 432.8 255.9C433.05 254 435.45 254 435.7 255.9Q435.95 257.5 437.15 257.5L455.1 257.5A3.9 5.4 0 0 0 459 252.1L459 249Q458.8 248.3 457.4 248.2Q455.9 248 455.9 246.4Q455.9 244.8 457.4 244.6Q458.8 244.5 459 243.8L459 233.6Q458.8 232.9 457.4 232.8Q455.9 232.6 455.9 231Q455.9 229.4 457.4 229.2Q458.8 229.1 459 228.4L459 218.2L448.8 209Q448 208.3 448 207.2L448 206.2Q448 204.4 450 204.4L455.7 204.4Q456.8 204.4 457 203.2C457.3 201.7 459.3 201.7 459.6 203.2Q459.8 204.4 460.9 204.4L468.1 204.4Q469.2 204.4 469.4 203.2C469.7 201.7 471.7 201.7 472 203.2Q472.2 204.4 473.3 204.4L479 204.4Q481 204.4 481 206.2L481 207.2Q481 208.3 480.2 209L470 218.2L470 228.4Q470.2 229.1 471.6 229.2Q473.1 229.4 473.1 231Q473.1 232.6 471.6 232.8Q470.2 232.9 470 233.6L470 243.8Q470.2 244.5 471.6 244.6Q473.1 244.8 473.1 246.4Q473.1 248 471.6 248.2Q470.2 248.3 470 249L470 252.1A3.9 5.4 0 0 0 473.9 257.5L626.9 257.5Q629.9 257.5 629.9 253.5L629.9 235.6Q629.9 234.8 630.7 234.8L633.5 234.8Q634.3 234.8 634.3 235.6L634.3 253.5Q634.3 257.5 637.3 257.5L790 257.5A3.9 5.4 0 0 0 793.9 252.1L793.9 249Q793.7 248.3 792.3 248.2Q790.8 248 790.8 246.4Q790.8 244.8 792.3 244.6Q793.7 244.5 793.9 243.8L793.9 233.6Q793.7 232.9 792.3 232.8Q790.8 232.6 790.8 231Q790.8 229.4 792.3 229.2Q793.7 229.1 793.9 228.4L793.9 218.2L783.7 209Q782.9 208.3 782.9 207.2L782.9 206.2Q782.9 204.4 784.9 204.4L790.6 204.4Q791.7 204.4 791.9 203.2C792.2 201.7 794.2 201.7 794.5 203.2Q794.7 204.4 795.8 204.4L803 204.4Q804.1 204.4 804.3 203.2C804.6 201.7 806.6 201.7 806.9 203.2Q807.1 204.4 808.2 204.4L813.9 204.4Q815.9 204.4 815.9 206.2L815.9 207.2Q815.9 208.3 815.1 209L804.9 218.2L804.9 228.4Q805.1 229.1 806.5 229.2Q808 229.4 808 231Q808 232.6 806.5 232.8Q805.1 232.9 804.9 233.6L804.9 243.8Q805.1 244.5 806.5 244.6Q808 244.8 808 246.4Q808 248 806.5 248.2Q805.1 248.3 804.9 249L804.9 252.1A3.9 5.4 0 0 0 808.8 257.5L827.01 257.5Q828.21 257.5 828.46 255.9C828.71 254 831.11 254 831.36 255.9Q831.61 257.5 832.81 257.5L842.18 257.5Q843.38 257.5 843.63 255.9C843.88 254 846.28 254 846.53 255.9Q846.78 257.5 847.98 257.5L857.35 257.5Q858.55 257.5 858.8 255.9C859.05 254 861.45 254 861.7 255.9Q861.95 257.5 863.15 257.5L872.52 257.5Q873.72 257.5 873.97 255.9C874.22 254 876.62 254 876.87 255.9Q877.12 257.5 878.32 257.5L887.69 257.5Q888.89 257.5 889.14 255.9C889.39 254 891.79 254 892.04 255.9Q892.29 257.5 893.49 257.5L902.86 257.5Q904.06 257.5 904.31 255.9C904.56 254 906.96 254 907.21 255.9Q907.46 257.5 908.66 257.5L918.03 257.5Q919.23 257.5 919.48 255.9C919.73 254 922.13 254 922.38 255.9Q922.63 257.5 923.83 257.5L933.2 257.5Q934.4 257.5 934.65 255.9C934.9 254 937.3 254 937.55 255.9Q937.8 257.5 939 257.5L957.3 257.5A3.9 5.4 0 0 0 961.2 252.1L961.2 249Q961 248.3 959.6 248.2Q958.1 248 958.1 246.4Q958.1 244.8 959.6 244.6Q961 244.5 961.2 243.8L961.2 233.6Q961 232.9 959.6 232.8Q958.1 232.6 958.1 231Q958.1 229.4 959.6 229.2Q961 229.1 961.2 228.4L961.2 218.2L951 209Q950.2 208.3 950.2 207.2L950.2 206.2Q950.2 204.4 952.2 204.4L957.9 204.4Q959 204.4 959.2 203.2C959.5 201.7 961.5 201.7 961.8 203.2Q962 204.4 963.1 204.4L970.3 204.4Q971.4 204.4 971.6 203.2C971.9 201.7 973.9 201.7 974.2 203.2Q974.4 204.4 975.5 204.4L981.2 204.4Q983.2 204.4 983.2 206.2L983.2 207.2Q983.2 208.3 982.4 209L972.2 218.2L972.2 228.4Q972.4 229.1 973.8 229.2Q975.3 229.4 975.3 231Q975.3 232.6 973.8 232.8Q972.4 232.9 972.2 233.6L972.2 243.8Q972.4 244.5 973.8 244.6Q975.3 244.8 975.3 246.4Q975.3 248 973.8 248.2Q972.4 248.3 972.2 249L972.2 252.1A3.9 5.4 0 0 0 976.1 257.5L1118.2 257.5L1118.2 265.5Z" fill="#706f6e" stroke="#242220" stroke-width="1.3" stroke-linejoin="round"/><path d="M530.6 89.45H103.3" stroke="#1b1613" stroke-width="2.9" fill="none"/><path d="M104.3 88.6L70.7 254.33" stroke="#1b1613" stroke-width="2.5" fill="none" stroke-linejoin="miter" stroke-miterlimit="10"/><path d="M68.4 265.7L65.01 250.73L70.7 254.33L77.36 253.23Z" fill="#1b1613"/><path d="M435.1 159.5H209.6" stroke="#1b1613" stroke-width="2.9" fill="none"/><path d="M210.5 159.2L177.78 246.24" stroke="#1b1613" stroke-width="2.5" fill="none" stroke-linejoin="miter" stroke-miterlimit="10"/><path d="M173.7 257.1L172.73 241.78L177.78 246.24L184.52 246.21Z" fill="#1b1613"/><path d="M210.5 159.2L247.38 246.42" stroke="#1b1613" stroke-width="2.5" fill="none" stroke-linejoin="miter" stroke-miterlimit="10"/><path d="M251.9 257.1L240.64 246.66L247.38 246.42L252.25 241.75Z" fill="#1b1613"/><path d="M1058 104.95H791.2" stroke="#1b1613" stroke-width="2.2" fill="none"/><path d="M792.4 105.1L644.47 82.36" stroke="#1b1613" stroke-width="2.1" fill="none" stroke-linejoin="miter" stroke-miterlimit="10"/><path d="M633 80.6L647.79 76.5L644.47 82.36L645.88 88.95Z" fill="#1b1613"/><path d="M820.2 159.5H1048.6" stroke="#1b1613" stroke-width="2.9" fill="none"/><path d="M1047.3 159.2L1083.91 246.4" stroke="#1b1613" stroke-width="2.5" fill="none" stroke-linejoin="miter" stroke-miterlimit="10"/><path d="M1088.4 257.1L1077.17 246.63L1083.91 246.4L1088.79 241.75Z" fill="#1b1613"/><path d="M1047.3 159.2L1014.85 246.23" stroke="#1b1613" stroke-width="2.5" fill="none" stroke-linejoin="miter" stroke-miterlimit="10"/><path d="M1010.8 257.1L1009.79 241.78L1014.85 246.23L1021.59 246.18Z" fill="#1b1613"/><g fill="#1b1613" stroke="#1b1613" stroke-width="0.2" font-family="'Liberation Sans', sans-serif"><text x="101.9" y="78.6" font-size="30">Гидроизоляционная мембрана</text><text x="208.4" y="148.8" font-size="30">Сварочные швы</text><text x="820.4" y="148.8" font-size="30">Сварочные швы</text><text x="101.4" y="352.9" font-size="30">Жесткое основание</text><g stroke="#1b1613" stroke-width="0.3"><text transform="translate(787.4 68.2) scale(1 1.01)" font-size="25.83">ТЕХНОЛОГИЧЕСКИЙ</text><text transform="translate(787.8 96.5) scale(1 1.01)" font-size="25.72">ШОВ БЕТОНИРОВАНИЯ</text></g></g></g><g transform="translate(0 449)"><rect x="23.3" y="21.2" width="1217.4" height="243.6" fill="#fff"/><rect x="23.3" y="274.2" width="1217.4" height="112.4" fill="#fff"/><g fill="none" stroke="#4c4846" stroke-width="0.38"><circle cx="49.5" cy="43.8" r="3"/><circle cx="52.5" cy="108.1" r="3"/><circle cx="116.8" cy="134.1" r="3"/><circle cx="121.1" cy="172.1" r="3"/><circle cx="133.3" cy="203.9" r="3"/><circle cx="67.3" cy="217.9" r="3"/><circle cx="87.0" cy="221.2" r="3"/><circle cx="323.7" cy="54.5" r="3"/><circle cx="233.4" cy="123.1" r="3"/><circle cx="237.7" cy="124.8" r="3"/><circle cx="275.2" cy="203.6" r="3"/><circle cx="282.7" cy="160.1" r="3"/><circle cx="281.4" cy="131.1" r="3"/><circle cx="265.2" cy="69.8" r="3"/><circle cx="408.3" cy="57.3" r="3"/><circle cx="435.6" cy="56.3" r="3"/><circle cx="576.9" cy="52.3" r="3"/><circle cx="576.4" cy="66.0" r="3"/><circle cx="570.9" cy="97.3" r="3"/><circle cx="508.1" cy="106.1" r="3"/><circle cx="361.3" cy="107.1" r="3"/><circle cx="621.5" cy="142.3" r="3"/><circle cx="467.4" cy="159.9" r="3"/><circle cx="589.4" cy="169.6" r="3"/><circle cx="343.8" cy="177.6" r="3"/><circle cx="492.6" cy="198.1" r="3"/><circle cx="639.5" cy="106.8" r="3"/><circle cx="409.6" cy="146.8" r="3"/><circle cx="507.6" cy="76.0" r="3"/><circle cx="844.4" cy="44.0" r="3"/><circle cx="746.8" cy="106.1" r="3"/><circle cx="917.2" cy="124.6" r="3"/><circle cx="782.1" cy="159.6" r="3"/><circle cx="712.1" cy="203.9" r="3"/><circle cx="906.5" cy="197.9" r="3"/><circle cx="935.5" cy="218.2" r="3"/><circle cx="890.4" cy="225.9" r="3"/><circle cx="917.5" cy="66.8" r="3"/><circle cx="1162.2" cy="52.0" r="3"/><circle cx="1191.9" cy="57.3" r="3"/><circle cx="1216.5" cy="69.5" r="3"/><circle cx="1130.9" cy="97.3" r="3"/><circle cx="1209.7" cy="108.3" r="3"/><circle cx="1122.4" cy="123.3" r="3"/><circle cx="1072.6" cy="134.1" r="3"/><circle cx="1144.2" cy="147.3" r="3"/><circle cx="1144.4" cy="169.9" r="3"/><circle cx="1216.5" cy="172.1" r="3"/><circle cx="988.0" cy="177.6" r="3"/><circle cx="1085.4" cy="221.4" r="3"/><circle cx="1045.1" cy="75.0" r="3"/><circle cx="1021.6" cy="66.0" r="3"/><circle cx="999.8" cy="131.8" r="3"/><circle cx="1002.0" cy="160.1" r="3"/><circle cx="64.2" cy="284.5" r="3"/><circle cx="154.9" cy="377.6" r="3"/><circle cx="313.0" cy="328.2" r="3"/><circle cx="302.3" cy="277.2" r="3"/><circle cx="269.3" cy="254.2" r="3"/><circle cx="69.5" cy="248.5" r="3"/><circle cx="485.9" cy="310.4" r="3"/><circle cx="530.1" cy="332.9" r="3"/><circle cx="542.6" cy="329.4" r="3"/><circle cx="579.3" cy="321.4" r="3"/><circle cx="632.8" cy="325.7" r="3"/><circle cx="462.7" cy="352.7" r="3"/><circle cx="508.1" cy="358.2" r="3"/><circle cx="591.1" cy="357.2" r="3"/><circle cx="391.5" cy="372.4" r="3"/><circle cx="555.6" cy="379.6" r="3"/><circle cx="624.8" cy="248.5" r="3"/><circle cx="407.9" cy="385.1" r="3"/><circle cx="665.5" cy="248.5" r="3"/><circle cx="674.5" cy="311.4" r="3"/><circle cx="813.4" cy="326.4" r="3"/><circle cx="877.3" cy="339.4" r="3"/><circle cx="893.3" cy="338.2" r="3"/><circle cx="941.8" cy="343.4" r="3"/><circle cx="734.2" cy="360.4" r="3"/><circle cx="890.6" cy="227.2" r="3"/><circle cx="1104.6" cy="248.5" r="3"/><circle cx="1204.3" cy="255.2" r="3"/><circle cx="1166.6" cy="310.4" r="3"/><circle cx="992.0" cy="315.4" r="3"/><circle cx="1052.4" cy="328.4" r="3"/><circle cx="1116.4" cy="356.2" r="3"/><circle cx="1148.3" cy="356.4" r="3"/><circle cx="1070.4" cy="360.6" r="3"/><circle cx="1068.4" cy="371.4" r="3"/><circle cx="1078.4" cy="381.4" r="3"/><circle cx="1123.9" cy="374.9" r="3"/><circle cx="963.7" cy="369.4" r="3"/><circle cx="76.8" cy="50.3" r="1.8"/><circle cx="222.2" cy="37.8" r="1.8"/><circle cx="239.9" cy="49.0" r="1.8"/><circle cx="284.2" cy="56.8" r="1.8"/><circle cx="210.9" cy="103.8" r="1.8"/><circle cx="214.1" cy="115.6" r="1.8"/><circle cx="296.0" cy="116.8" r="1.8"/><circle cx="130.6" cy="148.3" r="1.8"/><circle cx="174.4" cy="140.3" r="1.8"/><circle cx="163.6" cy="167.6" r="1.8"/><circle cx="99.3" cy="184.4" r="1.8"/><circle cx="64.8" cy="188.1" r="1.8"/><circle cx="57.5" cy="109.6" r="1.8"/><circle cx="127.8" cy="171.1" r="1.8"/><circle cx="68.8" cy="123.1" r="1.8"/><circle cx="247.7" cy="153.4" r="1.8"/><circle cx="34.8" cy="30.5" r="1.8"/><circle cx="315.5" cy="82.5" r="1.8"/><circle cx="328.2" cy="202.4" r="1.8"/><circle cx="26.8" cy="128.3" r="1.8"/><circle cx="386.8" cy="46.8" r="1.8"/><circle cx="514.6" cy="53.8" r="1.8"/><circle cx="531.9" cy="49.8" r="1.8"/><circle cx="558.4" cy="65.0" r="1.8"/><circle cx="603.5" cy="37.3" r="1.8"/><circle cx="603.2" cy="103.6" r="1.8"/><circle cx="371.8" cy="120.6" r="1.8"/><circle cx="509.1" cy="133.1" r="1.8"/><circle cx="492.1" cy="144.1" r="1.8"/><circle cx="533.7" cy="162.6" r="1.8"/><circle cx="555.7" cy="174.6" r="1.8"/><circle cx="508.6" cy="194.9" r="1.8"/><circle cx="388.0" cy="209.1" r="1.8"/><circle cx="544.2" cy="127.3" r="1.8"/><circle cx="608.5" cy="165.6" r="1.8"/><circle cx="617.2" cy="163.6" r="1.8"/><circle cx="446.8" cy="144.3" r="1.8"/><circle cx="480.4" cy="118.3" r="1.8"/><circle cx="438.1" cy="230.9" r="1.8"/><circle cx="424.1" cy="180.6" r="1.8"/><circle cx="459.1" cy="188.4" r="1.8"/><circle cx="544.7" cy="26.3" r="1.8"/><circle cx="719.3" cy="46.8" r="1.8"/><circle cx="768.9" cy="37.3" r="1.8"/><circle cx="824.9" cy="38.0" r="1.8"/><circle cx="724.1" cy="115.8" r="1.8"/><circle cx="675.8" cy="123.1" r="1.8"/><circle cx="677.8" cy="144.3" r="1.8"/><circle cx="757.3" cy="149.9" r="1.8"/><circle cx="810.9" cy="140.6" r="1.8"/><circle cx="647.0" cy="132.8" r="1.8"/><circle cx="925.2" cy="162.6" r="1.8"/><circle cx="855.2" cy="188.1" r="1.8"/><circle cx="922.7" cy="210.1" r="1.8"/><circle cx="913.5" cy="221.7" r="1.8"/><circle cx="828.9" cy="202.6" r="1.8"/><circle cx="655.5" cy="76.3" r="1.8"/><circle cx="669.5" cy="69.3" r="1.8"/><circle cx="852.7" cy="78.8" r="1.8"/><circle cx="783.6" cy="138.8" r="1.8"/><circle cx="1083.9" cy="49.0" r="1.8"/><circle cx="1076.1" cy="53.8" r="1.8"/><circle cx="1139.9" cy="56.8" r="1.8"/><circle cx="1203.7" cy="78.5" r="1.8"/><circle cx="1180.7" cy="109.3" r="1.8"/><circle cx="1208.5" cy="143.8" r="1.8"/><circle cx="1063.1" cy="148.3" r="1.8"/><circle cx="1094.6" cy="184.6" r="1.8"/><circle cx="1134.6" cy="194.9" r="1.8"/><circle cx="1233.7" cy="174.6" r="1.8"/><circle cx="1041.8" cy="207.6" r="1.8"/><circle cx="1004.5" cy="118.8" r="1.8"/><circle cx="1024.8" cy="169.4" r="1.8"/><circle cx="1111.1" cy="61.8" r="1.8"/><circle cx="1098.9" cy="165.4" r="1.8"/><circle cx="1207.0" cy="221.9" r="1.8"/><circle cx="1056.6" cy="230.9" r="1.8"/><circle cx="44.7" cy="303.4" r="1.8"/><circle cx="83.0" cy="297.2" r="1.8"/><circle cx="101.4" cy="296.0" r="1.8"/><circle cx="135.4" cy="300.7" r="1.8"/><circle cx="261.8" cy="283.0" r="1.8"/><circle cx="229.3" cy="322.9" r="1.8"/><circle cx="304.0" cy="324.9" r="1.8"/><circle cx="30.5" cy="352.9" r="1.8"/><circle cx="279.8" cy="364.9" r="1.8"/><circle cx="169.9" cy="245.5" r="1.8"/><circle cx="238.1" cy="246.0" r="1.8"/><circle cx="119.9" cy="310.4" r="1.8"/><circle cx="78.5" cy="330.2" r="1.8"/><circle cx="161.6" cy="370.4" r="1.8"/><circle cx="325.5" cy="308.2" r="1.8"/><circle cx="285.0" cy="372.4" r="1.8"/><circle cx="50.5" cy="239.2" r="1.8"/><circle cx="119.2" cy="240.5" r="1.8"/><circle cx="64.5" cy="278.5" r="1.8"/><circle cx="113.4" cy="363.4" r="1.8"/><circle cx="246.1" cy="362.1" r="1.8"/><circle cx="200.4" cy="231.0" r="1.8"/><circle cx="438.2" cy="230.7" r="1.8"/><circle cx="506.9" cy="238.7" r="1.8"/><circle cx="549.1" cy="248.2" r="1.8"/><circle cx="354.2" cy="296.7" r="1.8"/><circle cx="484.9" cy="283.0" r="1.8"/><circle cx="542.6" cy="278.5" r="1.8"/><circle cx="617.8" cy="280.7" r="1.8"/><circle cx="490.9" cy="309.9" r="1.8"/><circle cx="525.4" cy="317.9" r="1.8"/><circle cx="516.9" cy="353.7" r="1.8"/><circle cx="432.4" cy="363.9" r="1.8"/><circle cx="351.5" cy="381.1" r="1.8"/><circle cx="435.4" cy="378.4" r="1.8"/><circle cx="484.4" cy="375.9" r="1.8"/><circle cx="531.4" cy="364.6" r="1.8"/><circle cx="465.2" cy="356.2" r="1.8"/><circle cx="619.8" cy="252.5" r="1.8"/><circle cx="457.7" cy="313.4" r="1.8"/><circle cx="429.4" cy="326.4" r="1.8"/><circle cx="563.3" cy="232.0" r="1.8"/><circle cx="718.7" cy="232.7" r="1.8"/><circle cx="891.8" cy="246.0" r="1.8"/><circle cx="928.0" cy="245.7" r="1.8"/><circle cx="675.2" cy="278.7" r="1.8"/><circle cx="677.0" cy="285.2" r="1.8"/><circle cx="689.0" cy="285.0" r="1.8"/><circle cx="702.7" cy="332.9" r="1.8"/><circle cx="768.9" cy="343.9" r="1.8"/><circle cx="811.6" cy="294.2" r="1.8"/><circle cx="890.8" cy="316.9" r="1.8"/><circle cx="926.8" cy="318.4" r="1.8"/><circle cx="941.3" cy="324.9" r="1.8"/><circle cx="838.6" cy="348.2" r="1.8"/><circle cx="806.1" cy="365.9" r="1.8"/><circle cx="785.1" cy="368.9" r="1.8"/><circle cx="842.8" cy="372.4" r="1.8"/><circle cx="910.0" cy="371.1" r="1.8"/><circle cx="951.3" cy="363.1" r="1.8"/><circle cx="679.0" cy="345.4" r="1.8"/><circle cx="783.4" cy="305.2" r="1.8"/><circle cx="793.9" cy="316.4" r="1.8"/><circle cx="820.4" cy="313.2" r="1.8"/><circle cx="864.8" cy="291.0" r="1.8"/><circle cx="878.3" cy="302.4" r="1.8"/><circle cx="886.1" cy="345.4" r="1.8"/><circle cx="937.8" cy="359.9" r="1.8"/><circle cx="660.0" cy="252.7" r="1.8"/><circle cx="901.3" cy="240.2" r="1.8"/><circle cx="1056.4" cy="230.7" r="1.8"/><circle cx="1191.8" cy="238.7" r="1.8"/><circle cx="1148.3" cy="231.7" r="1.8"/><circle cx="1119.1" cy="278.7" r="1.8"/><circle cx="1122.9" cy="298.9" r="1.8"/><circle cx="1088.9" cy="305.4" r="1.8"/><circle cx="990.0" cy="326.2" r="1.8"/><circle cx="1018.2" cy="319.4" r="1.8"/><circle cx="1171.6" cy="320.7" r="1.8"/><circle cx="1176.8" cy="325.4" r="1.8"/><circle cx="1199.8" cy="315.7" r="1.8"/><circle cx="1212.8" cy="317.7" r="1.8"/><circle cx="1236.3" cy="293.7" r="1.8"/><circle cx="1124.6" cy="330.4" r="1.8"/><circle cx="1158.3" cy="341.9" r="1.8"/><circle cx="1062.7" cy="337.7" r="1.8"/><circle cx="1042.7" cy="350.9" r="1.8"/><circle cx="1108.4" cy="351.9" r="1.8"/><circle cx="1002.2" cy="361.9" r="1.8"/><circle cx="1193.3" cy="363.4" r="1.8"/><circle cx="1224.8" cy="371.4" r="1.8"/><circle cx="1069.4" cy="291.2" r="1.8"/><circle cx="1050.9" cy="334.4" r="1.8"/><circle cx="980.2" cy="254.0" r="1.8"/><circle cx="1033.2" cy="254.0" r="1.8"/><circle cx="1056.2" cy="248.0" r="1.8"/><circle cx="1157.3" cy="239.2" r="1.8"/><circle cx="163.7" cy="29.0" r="1.3"/><circle cx="250.5" cy="156.5" r="1.2"/><circle cx="441.0" cy="60.1" r="1.3"/><circle cx="996.2" cy="32.5" r="1.3"/><circle cx="849.6" cy="117.8" r="1.0"/><circle cx="118.0" cy="102.7" r="1.3"/><circle cx="740.1" cy="34.4" r="1.1"/><circle cx="592.9" cy="161.9" r="1.1"/><circle cx="33.3" cy="162.4" r="0.9"/><circle cx="582.8" cy="259.7" r="1.0"/><circle cx="839.2" cy="89.2" r="1.2"/><circle cx="343.6" cy="160.0" r="1.4"/><circle cx="1163.6" cy="186.8" r="1.3"/><circle cx="693.5" cy="121.0" r="1.1"/><circle cx="417.7" cy="260.2" r="1.1"/><circle cx="321.0" cy="80.1" r="1.0"/><circle cx="34.8" cy="232.2" r="1.1"/><circle cx="715.3" cy="96.3" r="0.9"/><circle cx="458.7" cy="209.1" r="1.3"/><circle cx="338.1" cy="29.5" r="1.0"/><circle cx="879.7" cy="76.2" r="1.0"/><circle cx="1007.1" cy="233.2" r="1.0"/><circle cx="1144.5" cy="74.7" r="1.3"/><circle cx="95.6" cy="123.0" r="1.2"/><circle cx="424.9" cy="46.3" r="1.0"/><circle cx="962.4" cy="257.6" r="1.0"/><circle cx="660.3" cy="248.9" r="0.9"/><circle cx="59.9" cy="56.1" r="1.2"/><circle cx="996.2" cy="134.0" r="1.4"/><circle cx="156.7" cy="199.3" r="1.2"/><circle cx="513.0" cy="230.5" r="1.2"/><circle cx="297.6" cy="84.2" r="1.1"/><circle cx="387.7" cy="261.6" r="1.2"/><circle cx="936.9" cy="220.7" r="1.1"/><circle cx="614.5" cy="236.9" r="1.2"/><circle cx="280.3" cy="235.2" r="1.3"/><circle cx="386.7" cy="29.8" r="1.4"/><circle cx="37.4" cy="241.9" r="1.3"/><circle cx="1213.3" cy="31.9" r="1.3"/><circle cx="861.6" cy="33.1" r="1.0"/><circle cx="547.8" cy="49.1" r="1.4"/><circle cx="409.6" cy="234.0" r="1.1"/><circle cx="190.6" cy="126.4" r="1.2"/><circle cx="205.3" cy="200.4" r="1.0"/><circle cx="356.8" cy="66.4" r="0.9"/><circle cx="78.3" cy="145.6" r="1.2"/><circle cx="1085.4" cy="195.5" r="1.1"/><circle cx="534.0" cy="256.5" r="1.1"/><circle cx="762.7" cy="245.4" r="1.2"/><circle cx="482.9" cy="81.5" r="1.0"/><circle cx="408.5" cy="256.2" r="1.3"/><circle cx="889.2" cy="118.1" r="1.2"/><circle cx="296.6" cy="170.4" r="1.4"/><circle cx="599.6" cy="196.5" r="1.1"/><circle cx="234.9" cy="220.4" r="1.2"/><circle cx="212.5" cy="84.1" r="1.1"/><circle cx="999.5" cy="148.6" r="0.9"/><circle cx="850.4" cy="111.7" r="1.0"/><circle cx="475.4" cy="105.3" r="0.9"/><circle cx="269.4" cy="160.4" r="1.0"/><circle cx="896.4" cy="89.6" r="1.0"/><circle cx="476.4" cy="34.5" r="1.1"/><circle cx="889.6" cy="94.6" r="1.2"/><circle cx="1008.7" cy="108.2" r="1.2"/><circle cx="477.3" cy="183.1" r="0.9"/><circle cx="942.3" cy="114.7" r="1.1"/><circle cx="1118.4" cy="204.9" r="1.2"/><circle cx="600.0" cy="236.8" r="1.1"/><circle cx="958.3" cy="208.0" r="1.0"/><circle cx="119.5" cy="219.4" r="0.9"/><circle cx="939.0" cy="158.9" r="1.2"/><circle cx="887.8" cy="139.4" r="1.2"/><circle cx="1082.8" cy="58.8" r="1.2"/><circle cx="33.3" cy="260.3" r="1.0"/><circle cx="645.3" cy="124.4" r="1.1"/><circle cx="270.8" cy="36.5" r="1.1"/><circle cx="88.0" cy="99.1" r="1.1"/><circle cx="710.7" cy="101.3" r="1.3"/><circle cx="577.0" cy="247.4" r="1.3"/><circle cx="842.7" cy="185.3" r="1.0"/><circle cx="528.6" cy="181.5" r="1.4"/><circle cx="857.3" cy="61.0" r="1.2"/><circle cx="76.6" cy="223.8" r="1.0"/><circle cx="994.8" cy="258.2" r="0.9"/><circle cx="486.5" cy="177.1" r="1.2"/><circle cx="1153.0" cy="46.2" r="1.3"/><circle cx="750.5" cy="153.2" r="1.0"/><circle cx="429.8" cy="131.5" r="1.3"/><circle cx="242.8" cy="212.3" r="0.9"/><circle cx="747.9" cy="134.3" r="1.2"/><circle cx="143.8" cy="178.6" r="1.2"/><circle cx="231.7" cy="249.0" r="1.3"/><circle cx="1084.6" cy="138.8" r="0.9"/><circle cx="1091.4" cy="52.0" r="1.2"/><circle cx="168.5" cy="135.8" r="1.2"/><circle cx="640.2" cy="111.7" r="1.1"/><circle cx="272.6" cy="54.4" r="1.3"/><circle cx="634.2" cy="236.9" r="1.4"/><circle cx="303.9" cy="203.3" r="1.0"/><circle cx="63.5" cy="118.0" r="1.0"/><circle cx="1165.7" cy="122.5" r="0.9"/><circle cx="443.3" cy="57.5" r="1.0"/><circle cx="936.8" cy="176.1" r="1.2"/><circle cx="1051.0" cy="212.0" r="1.3"/><circle cx="331.4" cy="224.4" r="1.0"/><circle cx="581.0" cy="80.6" r="1.4"/><circle cx="856.6" cy="193.8" r="1.3"/><circle cx="31.4" cy="140.9" r="1.0"/><circle cx="432.5" cy="75.1" r="1.3"/><circle cx="776.6" cy="93.8" r="1.0"/><circle cx="172.3" cy="187.2" r="1.3"/><circle cx="665.0" cy="24.1" r="1.4"/><circle cx="576.9" cy="217.4" r="1.1"/><circle cx="118.0" cy="173.1" r="1.4"/><circle cx="466.8" cy="257.3" r="1.3"/><circle cx="854.4" cy="157.2" r="1.3"/><circle cx="950.1" cy="93.6" r="1.1"/><circle cx="987.9" cy="107.0" r="1.2"/><circle cx="404.1" cy="36.8" r="1.1"/><circle cx="1197.9" cy="253.9" r="1.1"/><circle cx="1169.8" cy="71.2" r="1.1"/><circle cx="157.4" cy="86.2" r="1.1"/><circle cx="1193.9" cy="87.8" r="1.4"/><circle cx="465.6" cy="243.3" r="1.0"/><circle cx="1027.9" cy="159.4" r="1.4"/><circle cx="347.8" cy="82.2" r="1.2"/><circle cx="939.5" cy="186.1" r="1.3"/><circle cx="1165.7" cy="201.4" r="1.1"/><circle cx="1002.5" cy="107.6" r="1.3"/><circle cx="187.9" cy="105.0" r="1.1"/><circle cx="515.3" cy="161.1" r="1.3"/><circle cx="981.6" cy="224.4" r="1.2"/><circle cx="356.9" cy="74.9" r="0.9"/><circle cx="30.2" cy="174.4" r="1.0"/><circle cx="74.0" cy="221.7" r="1.0"/><circle cx="788.9" cy="105.3" r="1.2"/><circle cx="290.0" cy="213.6" r="1.3"/><circle cx="1006.2" cy="152.4" r="1.3"/><circle cx="60.4" cy="144.6" r="0.9"/><circle cx="646.6" cy="164.7" r="1.3"/><circle cx="1221.3" cy="41.1" r="1.0"/><circle cx="440.1" cy="69.4" r="1.0"/><circle cx="261.4" cy="199.9" r="1.1"/><circle cx="265.6" cy="192.2" r="1.0"/><circle cx="102.0" cy="73.1" r="1.3"/><circle cx="901.0" cy="174.6" r="1.1"/><circle cx="79.6" cy="65.9" r="1.3"/><circle cx="1001.0" cy="132.8" r="1.0"/><circle cx="212.5" cy="209.8" r="1.4"/><circle cx="1131.0" cy="213.9" r="1.3"/><circle cx="279.7" cy="84.2" r="1.4"/><circle cx="188.2" cy="27.1" r="1.2"/><circle cx="613.2" cy="176.8" r="1.0"/><circle cx="1123.8" cy="115.4" r="1.2"/><circle cx="179.0" cy="71.8" r="1.2"/><circle cx="797.3" cy="193.0" r="0.9"/><circle cx="904.1" cy="36.9" r="1.1"/><circle cx="841.5" cy="194.6" r="1.2"/><circle cx="864.7" cy="136.7" r="1.4"/><circle cx="752.1" cy="39.0" r="1.4"/><circle cx="794.3" cy="201.2" r="0.9"/><circle cx="1209.1" cy="215.9" r="0.9"/><circle cx="317.4" cy="246.4" r="1.2"/><circle cx="1205.5" cy="193.7" r="1.3"/><circle cx="223.3" cy="146.4" r="1.3"/><circle cx="1104.3" cy="243.0" r="1.3"/><circle cx="699.7" cy="220.3" r="1.2"/><circle cx="746.6" cy="215.1" r="0.9"/><circle cx="687.1" cy="93.5" r="0.9"/><circle cx="1054.2" cy="48.2" r="1.1"/><circle cx="957.8" cy="25.7" r="1.0"/><circle cx="865.3" cy="167.1" r="1.1"/><circle cx="548.1" cy="233.9" r="1.4"/><circle cx="561.4" cy="192.9" r="1.1"/><circle cx="448.4" cy="101.5" r="1.1"/><circle cx="328.7" cy="122.6" r="1.0"/><circle cx="1100.2" cy="244.1" r="1.3"/><circle cx="153.1" cy="221.3" r="1.2"/><circle cx="669.5" cy="179.3" r="1.4"/><circle cx="134.6" cy="74.8" r="1.4"/><circle cx="930.2" cy="204.0" r="1.0"/><circle cx="59.5" cy="189.2" r="1.0"/><circle cx="750.6" cy="190.1" r="0.9"/><circle cx="107.1" cy="27.5" r="1.0"/><circle cx="357.4" cy="207.9" r="1.0"/><circle cx="816.5" cy="160.1" r="0.9"/><circle cx="44.0" cy="227.8" r="1.4"/><circle cx="466.7" cy="196.7" r="1.3"/><circle cx="331.0" cy="111.5" r="1.0"/><circle cx="326.9" cy="214.2" r="1.1"/><circle cx="952.9" cy="77.5" r="1.0"/><circle cx="310.6" cy="31.0" r="1.0"/><circle cx="583.5" cy="194.1" r="1.0"/><circle cx="607.2" cy="65.5" r="1.1"/><circle cx="169.4" cy="40.2" r="1.1"/><circle cx="1161.1" cy="156.6" r="1.0"/><circle cx="912.4" cy="41.8" r="1.1"/><circle cx="274.9" cy="182.4" r="1.0"/><circle cx="1218.8" cy="139.1" r="0.9"/><circle cx="817.4" cy="147.0" r="1.1"/><circle cx="923.4" cy="152.4" r="1.1"/><circle cx="759.2" cy="179.6" r="1.3"/><circle cx="1120.1" cy="67.4" r="1.2"/><circle cx="1118.7" cy="43.6" r="0.9"/><circle cx="558.1" cy="57.6" r="1.3"/><circle cx="733.0" cy="248.5" r="1.2"/><circle cx="41.3" cy="250.7" r="1.1"/><circle cx="646.1" cy="250.6" r="1.4"/><circle cx="1237.5" cy="133.1" r="1.4"/><circle cx="416.0" cy="121.3" r="1.2"/><circle cx="53.8" cy="113.4" r="1.3"/><circle cx="26.2" cy="169.2" r="1.1"/><circle cx="707.0" cy="194.1" r="1.0"/><circle cx="172.1" cy="253.5" r="1.0"/><circle cx="88.5" cy="242.6" r="0.9"/><circle cx="817.9" cy="146.6" r="1.0"/><circle cx="1192.4" cy="70.1" r="1.3"/><circle cx="312.7" cy="111.5" r="1.2"/><circle cx="840.6" cy="215.1" r="1.1"/><circle cx="1187.7" cy="211.8" r="1.1"/><circle cx="1187.0" cy="73.5" r="1.4"/><circle cx="830.0" cy="207.3" r="1.0"/><circle cx="286.5" cy="87.6" r="1.0"/><circle cx="518.2" cy="124.6" r="1.2"/><circle cx="1168.2" cy="161.9" r="1.3"/><circle cx="555.9" cy="65.9" r="0.9"/><circle cx="845.3" cy="62.5" r="1.4"/><circle cx="880.3" cy="255.0" r="1.3"/><circle cx="110.9" cy="25.1" r="1.2"/><circle cx="30.8" cy="79.0" r="1.3"/><circle cx="1222.5" cy="28.6" r="1.4"/><circle cx="1201.6" cy="59.5" r="1.2"/><circle cx="414.0" cy="123.8" r="1.0"/><circle cx="92.6" cy="44.1" r="0.9"/><circle cx="782.4" cy="190.5" r="1.3"/><circle cx="909.3" cy="105.7" r="1.0"/><circle cx="1151.9" cy="157.9" r="1.0"/><circle cx="992.1" cy="215.7" r="1.2"/><circle cx="794.4" cy="81.6" r="1.1"/><circle cx="672.2" cy="197.1" r="1.3"/><circle cx="771.0" cy="239.5" r="1.1"/><circle cx="829.0" cy="86.3" r="1.0"/><circle cx="988.8" cy="98.0" r="1.3"/><circle cx="93.5" cy="169.6" r="0.9"/><circle cx="585.6" cy="71.3" r="1.2"/><circle cx="965.8" cy="49.4" r="1.1"/><circle cx="775.9" cy="49.1" r="1.2"/><circle cx="129.9" cy="118.1" r="1.4"/><circle cx="155.1" cy="40.9" r="1.2"/><circle cx="1035.7" cy="64.4" r="1.3"/><circle cx="542.1" cy="104.8" r="1.0"/><circle cx="1203.8" cy="52.0" r="1.3"/><circle cx="1106.8" cy="240.1" r="1.4"/><circle cx="758.1" cy="93.0" r="1.3"/><circle cx="915.6" cy="55.0" r="1.4"/><circle cx="155.7" cy="218.4" r="1.0"/><circle cx="1061.7" cy="100.8" r="1.3"/><circle cx="440.0" cy="68.8" r="1.3"/><circle cx="1072.0" cy="161.4" r="1.3"/><circle cx="1054.4" cy="219.7" r="1.1"/><circle cx="480.1" cy="314.8" r="1.0"/><circle cx="301.3" cy="374.3" r="1.2"/><circle cx="1101.4" cy="357.8" r="1.4"/><circle cx="1043.7" cy="291.3" r="1.1"/><circle cx="846.4" cy="346.8" r="1.3"/><circle cx="689.9" cy="325.8" r="1.3"/><circle cx="974.1" cy="370.1" r="1.1"/><circle cx="328.2" cy="287.7" r="0.9"/><circle cx="991.4" cy="301.3" r="0.9"/><circle cx="924.2" cy="298.2" r="1.1"/><circle cx="998.5" cy="379.1" r="1.2"/><circle cx="738.0" cy="365.7" r="1.1"/><circle cx="177.3" cy="374.8" r="1.2"/><circle cx="550.0" cy="353.8" r="0.9"/><circle cx="1096.3" cy="383.2" r="1.1"/><circle cx="886.3" cy="376.5" r="1.1"/><circle cx="424.8" cy="355.3" r="1.2"/><circle cx="632.4" cy="348.5" r="1.4"/><circle cx="464.4" cy="375.9" r="0.9"/><circle cx="790.9" cy="363.0" r="1.2"/><circle cx="340.1" cy="306.5" r="1.2"/><circle cx="593.6" cy="286.9" r="1.1"/><circle cx="894.9" cy="357.1" r="1.0"/><circle cx="889.0" cy="353.0" r="1.3"/><circle cx="433.3" cy="359.0" r="1.0"/><circle cx="222.3" cy="300.4" r="1.0"/><circle cx="408.7" cy="331.0" r="1.1"/><circle cx="559.1" cy="381.1" r="1.4"/><circle cx="514.9" cy="314.9" r="1.1"/><circle cx="863.1" cy="318.9" r="1.3"/><circle cx="916.9" cy="378.6" r="1.1"/><circle cx="438.2" cy="378.1" r="1.1"/><circle cx="58.4" cy="311.6" r="1.1"/><circle cx="466.5" cy="372.8" r="1.2"/><circle cx="1152.4" cy="345.4" r="1.1"/><circle cx="475.0" cy="318.5" r="1.4"/><circle cx="679.2" cy="306.5" r="1.3"/><circle cx="220.2" cy="350.8" r="1.0"/><circle cx="98.1" cy="363.2" r="1.0"/><circle cx="134.6" cy="376.0" r="1.0"/><circle cx="932.6" cy="368.9" r="0.9"/><circle cx="72.2" cy="283.0" r="0.9"/><circle cx="884.4" cy="344.4" r="1.0"/><circle cx="463.1" cy="381.8" r="1.1"/><circle cx="881.5" cy="295.7" r="1.0"/><circle cx="451.4" cy="355.9" r="1.2"/><circle cx="851.0" cy="280.6" r="1.3"/><circle cx="1134.8" cy="337.0" r="1.0"/><circle cx="490.6" cy="350.9" r="1.3"/><circle cx="978.6" cy="332.1" r="1.3"/><circle cx="771.6" cy="310.8" r="1.0"/><circle cx="1226.8" cy="350.6" r="1.3"/><circle cx="343.9" cy="342.4" r="1.3"/><circle cx="1153.4" cy="358.0" r="1.3"/><circle cx="819.0" cy="306.7" r="1.4"/><circle cx="1169.0" cy="383.8" r="1.2"/><circle cx="1005.9" cy="358.2" r="1.3"/><circle cx="512.3" cy="378.7" r="1.0"/><circle cx="797.9" cy="317.3" r="1.3"/><circle cx="66.3" cy="328.1" r="1.3"/><circle cx="1108.6" cy="280.7" r="1.1"/><circle cx="897.1" cy="355.0" r="1.4"/><circle cx="251.4" cy="330.5" r="1.0"/><circle cx="1062.1" cy="324.5" r="1.4"/><circle cx="229.3" cy="291.7" r="1.1"/><circle cx="1189.3" cy="382.0" r="1.2"/><circle cx="1197.8" cy="318.2" r="1.1"/><circle cx="60.7" cy="298.9" r="1.0"/><circle cx="1071.4" cy="348.7" r="1.2"/><circle cx="389.9" cy="380.7" r="1.4"/><circle cx="890.4" cy="277.2" r="1.1"/><circle cx="41.8" cy="298.7" r="1.3"/><circle cx="149.2" cy="376.7" r="1.3"/><circle cx="159.9" cy="356.8" r="1.0"/><circle cx="906.0" cy="336.0" r="1.4"/><circle cx="335.1" cy="292.2" r="1.0"/><circle cx="739.3" cy="362.7" r="1.2"/><circle cx="722.2" cy="337.0" r="1.2"/><circle cx="44.3" cy="283.2" r="1.0"/><circle cx="138.2" cy="328.1" r="1.1"/><circle cx="245.3" cy="284.4" r="1.1"/><circle cx="133.7" cy="346.4" r="1.1"/><circle cx="646.7" cy="377.2" r="1.0"/><circle cx="545.8" cy="294.8" r="1.0"/><circle cx="1053.2" cy="346.3" r="1.2"/><circle cx="96.8" cy="331.2" r="1.0"/><circle cx="925.9" cy="353.7" r="1.0"/><circle cx="1120.0" cy="277.4" r="1.1"/><circle cx="511.7" cy="350.7" r="1.0"/><circle cx="147.1" cy="330.7" r="1.0"/><circle cx="1157.9" cy="364.2" r="1.0"/><circle cx="726.7" cy="381.5" r="1.3"/><circle cx="996.7" cy="289.1" r="0.9"/><circle cx="732.6" cy="354.4" r="1.2"/><circle cx="470.5" cy="353.2" r="1.4"/><circle cx="556.8" cy="277.4" r="1.3"/><circle cx="1074.0" cy="345.1" r="1.3"/><circle cx="894.8" cy="289.3" r="1.2"/><circle cx="30.4" cy="281.5" r="1.3"/><circle cx="1174.8" cy="337.5" r="1.2"/><circle cx="611.4" cy="313.1" r="1.2"/><circle cx="738.7" cy="300.8" r="1.2"/><circle cx="972.6" cy="332.4" r="1.4"/><circle cx="645.1" cy="317.1" r="1.1"/><circle cx="884.9" cy="364.6" r="1.3"/><circle cx="284.1" cy="325.4" r="1.1"/><circle cx="795.9" cy="351.2" r="0.9"/></g><g fill="#5a5654"><circle cx="260.1" cy="130.8" r="0.60"/><circle cx="487.6" cy="58.5" r="0.59"/><circle cx="861.7" cy="217.2" r="0.40"/><circle cx="1050.3" cy="118.0" r="0.61"/><circle cx="1228.5" cy="32.2" r="0.67"/><circle cx="1083.3" cy="209.1" r="0.62"/><circle cx="465.8" cy="91.3" r="0.71"/><circle cx="922.3" cy="145.6" r="0.52"/><circle cx="391.4" cy="97.7" r="0.59"/><circle cx="1162.2" cy="105.4" r="0.60"/><circle cx="123.0" cy="66.7" r="0.75"/><circle cx="108.1" cy="139.8" r="0.50"/><circle cx="756.7" cy="230.5" r="0.47"/><circle cx="915.5" cy="254.2" r="0.43"/><circle cx="254.1" cy="152.3" r="0.62"/><circle cx="812.5" cy="120.9" r="0.52"/><circle cx="431.4" cy="142.2" r="0.49"/><circle cx="587.6" cy="27.3" r="0.60"/><circle cx="1222.9" cy="37.4" r="0.65"/><circle cx="955.8" cy="45.5" r="0.55"/><circle cx="678.9" cy="164.6" r="0.63"/><circle cx="755.1" cy="103.1" r="0.49"/><circle cx="888.3" cy="206.4" r="0.51"/><circle cx="602.6" cy="180.6" r="0.53"/><circle cx="1225.3" cy="78.5" r="0.43"/><circle cx="699.0" cy="67.5" r="0.53"/><circle cx="207.0" cy="66.4" r="0.72"/><circle cx="222.4" cy="30.9" r="0.48"/><circle cx="1216.6" cy="143.2" r="0.52"/><circle cx="522.8" cy="243.7" r="0.62"/><circle cx="306.4" cy="72.6" r="0.62"/><circle cx="215.9" cy="230.3" r="0.49"/><circle cx="750.3" cy="132.3" r="0.71"/><circle cx="1072.4" cy="67.6" r="0.75"/><circle cx="144.2" cy="64.3" r="0.43"/><circle cx="437.5" cy="243.5" r="0.71"/><circle cx="454.5" cy="142.6" r="0.52"/><circle cx="286.7" cy="255.2" r="0.66"/><circle cx="465.5" cy="26.5" r="0.63"/><circle cx="685.3" cy="155.2" r="0.74"/><circle cx="522.9" cy="58.2" r="0.40"/><circle cx="1047.8" cy="211.4" r="0.42"/><circle cx="867.4" cy="101.5" r="0.59"/><circle cx="1060.4" cy="145.9" r="0.75"/><circle cx="310.1" cy="174.5" r="0.53"/><circle cx="846.8" cy="101.0" r="0.59"/><circle cx="294.1" cy="58.0" r="0.59"/><circle cx="661.0" cy="150.1" r="0.48"/><circle cx="1028.9" cy="237.7" r="0.42"/><circle cx="488.1" cy="222.9" r="0.44"/><circle cx="505.4" cy="262.3" r="0.56"/><circle cx="605.7" cy="214.8" r="0.45"/><circle cx="1037.0" cy="45.8" r="0.70"/><circle cx="270.4" cy="125.1" r="0.62"/><circle cx="1146.9" cy="69.8" r="0.65"/><circle cx="586.6" cy="134.5" r="0.55"/><circle cx="646.3" cy="221.1" r="0.66"/><circle cx="512.8" cy="33.7" r="0.59"/><circle cx="532.5" cy="163.6" r="0.69"/><circle cx="405.4" cy="85.0" r="0.59"/><circle cx="1076.5" cy="215.7" r="0.49"/><circle cx="588.6" cy="140.9" r="0.53"/><circle cx="997.4" cy="71.9" r="0.59"/><circle cx="379.3" cy="193.8" r="0.61"/><circle cx="96.0" cy="127.7" r="0.42"/><circle cx="1071.5" cy="41.2" r="0.46"/><circle cx="1143.9" cy="158.1" r="0.57"/><circle cx="1042.0" cy="58.8" r="0.47"/><circle cx="148.2" cy="46.8" r="0.73"/><circle cx="731.5" cy="100.2" r="0.45"/><circle cx="1131.2" cy="101.5" r="0.45"/><circle cx="139.4" cy="135.0" r="0.55"/><circle cx="848.8" cy="51.3" r="0.44"/><circle cx="1145.1" cy="262.1" r="0.58"/><circle cx="378.4" cy="107.2" r="0.57"/><circle cx="354.7" cy="237.4" r="0.48"/><circle cx="1146.6" cy="31.7" r="0.74"/><circle cx="443.3" cy="249.7" r="0.42"/><circle cx="703.7" cy="46.9" r="0.68"/><circle cx="453.7" cy="113.6" r="0.46"/><circle cx="617.9" cy="213.1" r="0.64"/><circle cx="1105.3" cy="44.2" r="0.48"/><circle cx="747.5" cy="211.4" r="0.42"/><circle cx="323.8" cy="167.2" r="0.41"/><circle cx="775.3" cy="189.3" r="0.52"/><circle cx="1008.4" cy="134.4" r="0.40"/><circle cx="322.7" cy="199.4" r="0.45"/><circle cx="427.2" cy="257.3" r="0.68"/><circle cx="607.4" cy="142.9" r="0.72"/><circle cx="449.2" cy="62.8" r="0.64"/><circle cx="929.6" cy="56.3" r="0.73"/><circle cx="1122.6" cy="202.0" r="0.68"/><circle cx="741.5" cy="128.0" r="0.67"/><circle cx="1081.4" cy="95.5" r="0.59"/><circle cx="1172.5" cy="51.7" r="0.68"/><circle cx="987.9" cy="187.2" r="0.69"/><circle cx="518.4" cy="44.8" r="0.69"/><circle cx="437.6" cy="166.2" r="0.68"/><circle cx="1010.6" cy="124.1" r="0.56"/><circle cx="875.8" cy="129.6" r="0.68"/><circle cx="249.1" cy="88.9" r="0.53"/><circle cx="297.7" cy="236.7" r="0.71"/><circle cx="504.0" cy="143.4" r="0.58"/><circle cx="1224.1" cy="69.3" r="0.46"/><circle cx="148.3" cy="156.1" r="0.58"/><circle cx="482.5" cy="245.9" r="0.63"/><circle cx="464.5" cy="182.0" r="0.53"/><circle cx="658.9" cy="185.7" r="0.57"/><circle cx="1106.0" cy="198.2" r="0.41"/><circle cx="420.1" cy="56.7" r="0.71"/><circle cx="201.2" cy="164.4" r="0.42"/><circle cx="501.4" cy="202.6" r="0.50"/><circle cx="1211.5" cy="179.1" r="0.64"/><circle cx="487.1" cy="254.2" r="0.64"/><circle cx="362.3" cy="62.7" r="0.69"/><circle cx="1089.4" cy="62.8" r="0.46"/><circle cx="571.7" cy="224.1" r="0.67"/><circle cx="407.5" cy="60.3" r="0.56"/><circle cx="703.2" cy="184.3" r="0.50"/><circle cx="789.8" cy="86.1" r="0.41"/><circle cx="160.9" cy="97.4" r="0.74"/><circle cx="794.3" cy="189.4" r="0.54"/><circle cx="670.5" cy="148.6" r="0.72"/><circle cx="634.6" cy="227.6" r="0.60"/><circle cx="940.0" cy="143.6" r="0.71"/><circle cx="926.5" cy="220.2" r="0.71"/><circle cx="185.1" cy="192.3" r="0.61"/><circle cx="359.4" cy="40.1" r="0.69"/><circle cx="845.3" cy="257.0" r="0.53"/><circle cx="873.7" cy="41.3" r="0.51"/><circle cx="97.6" cy="130.5" r="0.68"/><circle cx="789.6" cy="197.2" r="0.54"/><circle cx="1232.8" cy="216.2" r="0.52"/><circle cx="576.2" cy="187.2" r="0.56"/><circle cx="705.0" cy="191.6" r="0.66"/><circle cx="1175.3" cy="243.9" r="0.65"/><circle cx="224.3" cy="175.1" r="0.51"/><circle cx="181.5" cy="50.0" r="0.58"/><circle cx="886.8" cy="249.9" r="0.55"/><circle cx="913.7" cy="115.8" r="0.69"/><circle cx="485.2" cy="26.2" r="0.68"/><circle cx="588.0" cy="34.3" r="0.59"/><circle cx="112.0" cy="101.3" r="0.71"/><circle cx="303.2" cy="117.8" r="0.69"/><circle cx="1153.6" cy="176.6" r="0.49"/><circle cx="211.9" cy="28.4" r="0.44"/><circle cx="928.9" cy="29.8" r="0.68"/><circle cx="581.1" cy="53.2" r="0.47"/><circle cx="546.0" cy="50.4" r="0.59"/><circle cx="453.3" cy="46.5" r="0.70"/><circle cx="950.1" cy="59.3" r="0.74"/><circle cx="519.8" cy="170.0" r="0.72"/><circle cx="914.0" cy="214.4" r="0.69"/><circle cx="894.6" cy="31.3" r="0.70"/><circle cx="1214.8" cy="180.3" r="0.67"/><circle cx="1040.2" cy="261.6" r="0.50"/><circle cx="965.3" cy="236.7" r="0.59"/><circle cx="471.0" cy="152.4" r="0.46"/><circle cx="519.9" cy="242.4" r="0.74"/><circle cx="42.5" cy="86.2" r="0.75"/><circle cx="239.6" cy="128.7" r="0.64"/><circle cx="1194.7" cy="177.7" r="0.63"/><circle cx="162.8" cy="142.0" r="0.64"/><circle cx="393.4" cy="121.7" r="0.56"/><circle cx="908.7" cy="46.7" r="0.52"/><circle cx="1034.7" cy="31.3" r="0.48"/><circle cx="1062.3" cy="215.9" r="0.50"/><circle cx="37.9" cy="69.4" r="0.46"/><circle cx="825.0" cy="164.3" r="0.46"/><circle cx="200.1" cy="47.2" r="0.53"/><circle cx="491.6" cy="111.3" r="0.57"/><circle cx="1080.0" cy="36.1" r="0.69"/><circle cx="928.0" cy="158.5" r="0.74"/><circle cx="1065.8" cy="50.3" r="0.58"/><circle cx="316.6" cy="64.8" r="0.47"/><circle cx="126.7" cy="87.4" r="0.56"/><circle cx="1172.0" cy="200.9" r="0.53"/><circle cx="778.9" cy="75.7" r="0.47"/><circle cx="658.9" cy="163.0" r="0.42"/><circle cx="310.0" cy="64.0" r="0.56"/><circle cx="521.6" cy="236.3" r="0.70"/><circle cx="1185.8" cy="88.3" r="0.54"/><circle cx="377.0" cy="93.1" r="0.70"/><circle cx="535.1" cy="150.5" r="0.68"/><circle cx="823.6" cy="164.1" r="0.71"/><circle cx="717.2" cy="67.4" r="0.49"/><circle cx="115.0" cy="201.2" r="0.57"/><circle cx="847.7" cy="193.5" r="0.46"/><circle cx="1116.9" cy="79.6" r="0.53"/><circle cx="955.3" cy="223.7" r="0.62"/><circle cx="390.6" cy="85.1" r="0.61"/><circle cx="1055.8" cy="233.2" r="0.47"/><circle cx="44.2" cy="151.8" r="0.50"/><circle cx="865.5" cy="116.1" r="0.48"/><circle cx="257.9" cy="193.2" r="0.68"/><circle cx="306.3" cy="46.3" r="0.60"/><circle cx="193.5" cy="70.1" r="0.44"/><circle cx="293.8" cy="93.5" r="0.64"/><circle cx="960.8" cy="221.7" r="0.74"/><circle cx="648.7" cy="60.1" r="0.71"/><circle cx="657.8" cy="110.7" r="0.59"/><circle cx="612.0" cy="84.4" r="0.48"/><circle cx="411.7" cy="138.0" r="0.67"/><circle cx="476.5" cy="130.8" r="0.73"/><circle cx="363.7" cy="32.9" r="0.72"/><circle cx="182.3" cy="135.3" r="0.50"/><circle cx="109.1" cy="203.4" r="0.55"/><circle cx="88.1" cy="92.8" r="0.45"/><circle cx="335.3" cy="136.1" r="0.45"/><circle cx="761.1" cy="239.0" r="0.51"/><circle cx="1000.7" cy="383.0" r="0.66"/><circle cx="1011.4" cy="304.1" r="0.53"/><circle cx="1020.6" cy="313.9" r="0.70"/><circle cx="1091.2" cy="291.9" r="0.66"/><circle cx="1110.4" cy="327.3" r="0.66"/><circle cx="403.6" cy="370.5" r="0.44"/><circle cx="530.7" cy="371.2" r="0.47"/><circle cx="465.2" cy="315.9" r="0.64"/><circle cx="660.7" cy="364.8" r="0.52"/><circle cx="295.5" cy="356.7" r="0.48"/><circle cx="1238.0" cy="337.0" r="0.46"/><circle cx="1129.2" cy="336.0" r="0.70"/><circle cx="634.9" cy="373.2" r="0.73"/><circle cx="645.1" cy="376.8" r="0.45"/><circle cx="652.2" cy="295.8" r="0.72"/><circle cx="270.8" cy="339.6" r="0.66"/><circle cx="1147.2" cy="282.6" r="0.55"/><circle cx="130.6" cy="284.5" r="0.64"/><circle cx="198.2" cy="326.2" r="0.75"/><circle cx="221.4" cy="320.9" r="0.51"/><circle cx="597.4" cy="298.2" r="0.45"/><circle cx="231.1" cy="284.8" r="0.74"/><circle cx="720.0" cy="277.7" r="0.65"/><circle cx="455.6" cy="344.4" r="0.54"/><circle cx="550.3" cy="308.9" r="0.63"/><circle cx="1058.1" cy="361.6" r="0.64"/><circle cx="247.1" cy="289.3" r="0.68"/><circle cx="495.2" cy="342.2" r="0.49"/><circle cx="95.8" cy="305.2" r="0.65"/><circle cx="1129.3" cy="378.3" r="0.72"/><circle cx="1084.0" cy="357.6" r="0.74"/><circle cx="245.3" cy="342.2" r="0.74"/><circle cx="333.0" cy="301.9" r="0.75"/><circle cx="723.7" cy="325.3" r="0.61"/><circle cx="434.4" cy="319.4" r="0.70"/><circle cx="527.9" cy="348.6" r="0.65"/><circle cx="521.4" cy="379.7" r="0.73"/><circle cx="1121.4" cy="361.8" r="0.69"/><circle cx="618.4" cy="306.4" r="0.43"/><circle cx="720.9" cy="374.1" r="0.55"/><circle cx="1157.2" cy="286.3" r="0.44"/><circle cx="361.3" cy="289.2" r="0.55"/><circle cx="906.4" cy="304.5" r="0.63"/><circle cx="144.3" cy="329.8" r="0.48"/><circle cx="933.9" cy="292.5" r="0.42"/><circle cx="1223.8" cy="334.9" r="0.45"/><circle cx="250.6" cy="291.6" r="0.44"/><circle cx="1153.1" cy="327.7" r="0.49"/><circle cx="1132.1" cy="300.7" r="0.61"/><circle cx="1202.9" cy="359.5" r="0.59"/><circle cx="1002.4" cy="350.0" r="0.48"/><circle cx="587.5" cy="365.1" r="0.72"/><circle cx="220.5" cy="350.2" r="0.54"/><circle cx="350.6" cy="316.3" r="0.67"/><circle cx="740.3" cy="294.3" r="0.53"/><circle cx="788.9" cy="337.2" r="0.64"/><circle cx="465.1" cy="378.6" r="0.59"/><circle cx="104.0" cy="278.1" r="0.47"/><circle cx="641.0" cy="289.6" r="0.63"/><circle cx="855.3" cy="376.2" r="0.64"/><circle cx="1200.5" cy="310.5" r="0.40"/><circle cx="529.9" cy="373.6" r="0.69"/><circle cx="650.9" cy="311.6" r="0.54"/><circle cx="871.3" cy="284.2" r="0.74"/><circle cx="467.4" cy="347.8" r="0.75"/><circle cx="1230.2" cy="343.7" r="0.46"/><circle cx="943.3" cy="302.9" r="0.48"/><circle cx="953.3" cy="300.8" r="0.69"/><circle cx="574.6" cy="330.8" r="0.61"/><circle cx="396.1" cy="311.7" r="0.65"/><circle cx="837.5" cy="323.4" r="0.43"/><circle cx="266.4" cy="286.4" r="0.75"/><circle cx="432.0" cy="305.5" r="0.48"/><circle cx="111.4" cy="335.1" r="0.72"/><circle cx="837.8" cy="330.0" r="0.50"/><circle cx="612.2" cy="290.6" r="0.64"/><circle cx="1233.6" cy="311.1" r="0.68"/><circle cx="1074.5" cy="339.9" r="0.63"/><circle cx="636.7" cy="321.8" r="0.46"/><circle cx="670.6" cy="306.5" r="0.65"/><circle cx="461.7" cy="357.8" r="0.47"/><circle cx="309.4" cy="360.9" r="0.64"/><circle cx="463.1" cy="280.5" r="0.58"/></g><rect x="23.3" y="21.2" width="1217.4" height="243.6" fill="none" stroke="#808080" stroke-width="3.4"/><rect x="23.3" y="274.2" width="1217.4" height="112.4" fill="none" stroke="#808080" stroke-width="3.4"/><rect x="628" y="20.6" width="8" height="245.4" fill="#0091e0"/><rect x="22" y="266.2" width="337.2" height="8.8" fill="#fb1c14"/><rect x="59" y="266.75" width="19.1" height="7.65" fill="#fff"/><rect x="115" y="266.75" width="19" height="7.65" fill="#fff"/><rect x="169.9" y="266.75" width="20.2" height="7.65" fill="#fff"/><rect x="225.9" y="266.75" width="20.3" height="7.65" fill="#fff"/><rect x="282" y="266.75" width="20.1" height="7.65" fill="#fff"/><rect x="337.9" y="266.75" width="20.5" height="7.65" fill="#fff"/><path d="M22 266.6H359.2M22 274.6H359.2" stroke="#ff8f88" stroke-width="0.8" fill="none"/><path d="M22.4 266.2V275" stroke="#ff8f88" stroke-width="0.8"/><path d="M358.8 266.2V275" stroke="#ff6a62" stroke-width="0.8"/><rect x="358.8" y="265.8" width="547.6" height="9.4" fill="#fb1c14"/><rect x="359.4" y="267" width="1.5" height="6.1" fill="#fff"/><rect x="398.86" y="267" width="22" height="6.1" fill="#fff"/><rect x="459.02" y="267" width="22" height="6.1" fill="#fff"/><rect x="519.18" y="267" width="22" height="6.1" fill="#fff"/><rect x="579.34" y="267" width="22" height="6.1" fill="#fff"/><rect x="639.5" y="267" width="22" height="6.1" fill="#fff"/><rect x="699.66" y="267" width="22" height="6.1" fill="#fff"/><rect x="759.82" y="267" width="22" height="6.1" fill="#fff"/><rect x="819.98" y="267" width="22" height="6.1" fill="#fff"/><rect x="880.14" y="267" width="22" height="6.1" fill="#fff"/><rect x="905.1" y="266.2" width="336.8" height="8.8" fill="#fb1c14"/><rect x="906.4" y="266.75" width="19.8" height="7.65" fill="#fff"/><rect x="962" y="266.75" width="20.1" height="7.65" fill="#fff"/><rect x="1017.9" y="266.75" width="20.2" height="7.65" fill="#fff"/><rect x="1073.9" y="266.75" width="20.2" height="7.65" fill="#fff"/><rect x="1130" y="266.75" width="19.1" height="7.65" fill="#fff"/><rect x="1185" y="266.75" width="20" height="7.65" fill="#fff"/><path d="M905.1 266.6H1241.9M905.1 274.6H1241.9" stroke="#ff8f88" stroke-width="0.8" fill="none"/><path d="M905.5 266.2V275" stroke="#fb1c14" stroke-width="0.8"/><path d="M145.3 265.5L145.3 257.5L287.4 257.5A3.9 5.4 0 0 0 291.3 252.1L291.3 249Q291.1 248.3 289.7 248.2Q288.2 248 288.2 246.4Q288.2 244.8 289.7 244.6Q291.1 244.5 291.3 243.8L291.3 233.6Q291.1 232.9 289.7 232.8Q288.2 232.6 288.2 231Q288.2 229.4 289.7 229.2Q291.1 229.1 291.3 228.4L291.3 218.2L281.1 209Q280.3 208.3 280.3 207.2L280.3 206.2Q280.3 204.4 282.3 204.4L288 204.4Q289.1 204.4 289.3 203.2C289.6 201.7 291.6 201.7 291.9 203.2Q292.1 204.4 293.2 204.4L300.4 204.4Q301.5 204.4 301.7 203.2C302 201.7 304 201.7 304.3 203.2Q304.5 204.4 305.6 204.4L311.3 204.4Q313.3 204.4 313.3 206.2L313.3 207.2Q313.3 208.3 312.5 209L302.3 218.2L302.3 228.4Q302.5 229.1 303.9 229.2Q305.4 229.4 305.4 231Q305.4 232.6 303.9 232.8Q302.5 232.9 302.3 233.6L302.3 243.8Q302.5 244.5 303.9 244.6Q305.4 244.8 305.4 246.4Q305.4 248 303.9 248.2Q302.5 248.3 302.3 249L302.3 252.1A3.9 5.4 0 0 0 306.2 257.5L324.6 257.5Q325.8 257.5 326.05 255.9C326.3 254 328.7 254 328.95 255.9Q329.2 257.5 330.4 257.5L339.85 257.5Q341.05 257.5 341.3 255.9C341.55 254 343.95 254 344.2 255.9Q344.45 257.5 345.65 257.5L355.1 257.5Q356.3 257.5 356.55 255.9C356.8 254 359.2 254 359.45 255.9Q359.7 257.5 360.9 257.5L370.35 257.5Q371.55 257.5 371.8 255.9C372.05 254 374.45 254 374.7 255.9Q374.95 257.5 376.15 257.5L385.6 257.5Q386.8 257.5 387.05 255.9C387.3 254 389.7 254 389.95 255.9Q390.2 257.5 391.4 257.5L400.85 257.5Q402.05 257.5 402.3 255.9C402.55 254 404.95 254 405.2 255.9Q405.45 257.5 406.65 257.5L416.1 257.5Q417.3 257.5 417.55 255.9C417.8 254 420.2 254 420.45 255.9Q420.7 257.5 421.9 257.5L431.35 257.5Q432.55 257.5 432.8 255.9C433.05 254 435.45 254 435.7 255.9Q435.95 257.5 437.15 257.5L455.1 257.5A3.9 5.4 0 0 0 459 252.1L459 249Q458.8 248.3 457.4 248.2Q455.9 248 455.9 246.4Q455.9 244.8 457.4 244.6Q458.8 244.5 459 243.8L459 233.6Q458.8 232.9 457.4 232.8Q455.9 232.6 455.9 231Q455.9 229.4 457.4 229.2Q458.8 229.1 459 228.4L459 218.2L448.8 209Q448 208.3 448 207.2L448 206.2Q448 204.4 450 204.4L455.7 204.4Q456.8 204.4 457 203.2C457.3 201.7 459.3 201.7 459.6 203.2Q459.8 204.4 460.9 204.4L468.1 204.4Q469.2 204.4 469.4 203.2C469.7 201.7 471.7 201.7 472 203.2Q472.2 204.4 473.3 204.4L479 204.4Q481 204.4 481 206.2L481 207.2Q481 208.3 480.2 209L470 218.2L470 228.4Q470.2 229.1 471.6 229.2Q473.1 229.4 473.1 231Q473.1 232.6 471.6 232.8Q470.2 232.9 470 233.6L470 243.8Q470.2 244.5 471.6 244.6Q473.1 244.8 473.1 246.4Q473.1 248 471.6 248.2Q470.2 248.3 470 249L470 252.1A3.9 5.4 0 0 0 473.9 257.5L626.9 257.5Q629.9 257.5 629.9 253.5L629.9 235.6Q629.9 234.8 630.7 234.8L633.5 234.8Q634.3 234.8 634.3 235.6L634.3 253.5Q634.3 257.5 637.3 257.5L790 257.5A3.9 5.4 0 0 0 793.9 252.1L793.9 249Q793.7 248.3 792.3 248.2Q790.8 248 790.8 246.4Q790.8 244.8 792.3 244.6Q793.7 244.5 793.9 243.8L793.9 233.6Q793.7 232.9 792.3 232.8Q790.8 232.6 790.8 231Q790.8 229.4 792.3 229.2Q793.7 229.1 793.9 228.4L793.9 218.2L783.7 209Q782.9 208.3 782.9 207.2L782.9 206.2Q782.9 204.4 784.9 204.4L790.6 204.4Q791.7 204.4 791.9 203.2C792.2 201.7 794.2 201.7 794.5 203.2Q794.7 204.4 795.8 204.4L803 204.4Q804.1 204.4 804.3 203.2C804.6 201.7 806.6 201.7 806.9 203.2Q807.1 204.4 808.2 204.4L813.9 204.4Q815.9 204.4 815.9 206.2L815.9 207.2Q815.9 208.3 815.1 209L804.9 218.2L804.9 228.4Q805.1 229.1 806.5 229.2Q808 229.4 808 231Q808 232.6 806.5 232.8Q805.1 232.9 804.9 233.6L804.9 243.8Q805.1 244.5 806.5 244.6Q808 244.8 808 246.4Q808 248 806.5 248.2Q805.1 248.3 804.9 249L804.9 252.1A3.9 5.4 0 0 0 808.8 257.5L827.01 257.5Q828.21 257.5 828.46 255.9C828.71 254 831.11 254 831.36 255.9Q831.61 257.5 832.81 257.5L842.18 257.5Q843.38 257.5 843.63 255.9C843.88 254 846.28 254 846.53 255.9Q846.78 257.5 847.98 257.5L857.35 257.5Q858.55 257.5 858.8 255.9C859.05 254 861.45 254 861.7 255.9Q861.95 257.5 863.15 257.5L872.52 257.5Q873.72 257.5 873.97 255.9C874.22 254 876.62 254 876.87 255.9Q877.12 257.5 878.32 257.5L887.69 257.5Q888.89 257.5 889.14 255.9C889.39 254 891.79 254 892.04 255.9Q892.29 257.5 893.49 257.5L902.86 257.5Q904.06 257.5 904.31 255.9C904.56 254 906.96 254 907.21 255.9Q907.46 257.5 908.66 257.5L918.03 257.5Q919.23 257.5 919.48 255.9C919.73 254 922.13 254 922.38 255.9Q922.63 257.5 923.83 257.5L933.2 257.5Q934.4 257.5 934.65 255.9C934.9 254 937.3 254 937.55 255.9Q937.8 257.5 939 257.5L957.3 257.5A3.9 5.4 0 0 0 961.2 252.1L961.2 249Q961 248.3 959.6 248.2Q958.1 248 958.1 246.4Q958.1 244.8 959.6 244.6Q961 244.5 961.2 243.8L961.2 233.6Q961 232.9 959.6 232.8Q958.1 232.6 958.1 231Q958.1 229.4 959.6 229.2Q961 229.1 961.2 228.4L961.2 218.2L951 209Q950.2 208.3 950.2 207.2L950.2 206.2Q950.2 204.4 952.2 204.4L957.9 204.4Q959 204.4 959.2 203.2C959.5 201.7 961.5 201.7 961.8 203.2Q962 204.4 963.1 204.4L970.3 204.4Q971.4 204.4 971.6 203.2C971.9 201.7 973.9 201.7 974.2 203.2Q974.4 204.4 975.5 204.4L981.2 204.4Q983.2 204.4 983.2 206.2L983.2 207.2Q983.2 208.3 982.4 209L972.2 218.2L972.2 228.4Q972.4 229.1 973.8 229.2Q975.3 229.4 975.3 231Q975.3 232.6 973.8 232.8Q972.4 232.9 972.2 233.6L972.2 243.8Q972.4 244.5 973.8 244.6Q975.3 244.8 975.3 246.4Q975.3 248 973.8 248.2Q972.4 248.3 972.2 249L972.2 252.1A3.9 5.4 0 0 0 976.1 257.5L1118.2 257.5L1118.2 265.5Z" fill="#706f6e" stroke="#242220" stroke-width="1.3" stroke-linejoin="round"/><path d="M530.6 89.45H103.3" stroke="#1b1613" stroke-width="2.9" fill="none"/><path d="M104.3 88.6L70.7 254.33" stroke="#1b1613" stroke-width="2.5" fill="none" stroke-linejoin="miter" stroke-miterlimit="10"/><path d="M68.4 265.7L65.01 250.73L70.7 254.33L77.36 253.23Z" fill="#1b1613"/><path d="M435.1 159.5H209.6" stroke="#1b1613" stroke-width="2.9" fill="none"/><path d="M210.5 159.2L177.78 246.24" stroke="#1b1613" stroke-width="2.5" fill="none" stroke-linejoin="miter" stroke-miterlimit="10"/><path d="M173.7 257.1L172.73 241.78L177.78 246.24L184.52 246.21Z" fill="#1b1613"/><path d="M210.5 159.2L247.38 246.42" stroke="#1b1613" stroke-width="2.5" fill="none" stroke-linejoin="miter" stroke-miterlimit="10"/><path d="M251.9 257.1L240.64 246.66L247.38 246.42L252.25 241.75Z" fill="#1b1613"/><path d="M1058 104.95H791.2" stroke="#1b1613" stroke-width="2.2" fill="none"/><path d="M792.4 105.1L644.47 82.36" stroke="#1b1613" stroke-width="2.1" fill="none" stroke-linejoin="miter" stroke-miterlimit="10"/><path d="M633 80.6L647.79 76.5L644.47 82.36L645.88 88.95Z" fill="#1b1613"/><path d="M820.2 159.5H1048.6" stroke="#1b1613" stroke-width="2.9" fill="none"/><path d="M1047.3 159.2L1083.91 246.4" stroke="#1b1613" stroke-width="2.5" fill="none" stroke-linejoin="miter" stroke-miterlimit="10"/><path d="M1088.4 257.1L1077.17 246.63L1083.91 246.4L1088.79 241.75Z" fill="#1b1613"/><path d="M1047.3 159.2L1014.85 246.23" stroke="#1b1613" stroke-width="2.5" fill="none" stroke-linejoin="miter" stroke-miterlimit="10"/><path d="M1010.8 257.1L1009.79 241.78L1014.85 246.23L1021.59 246.18Z" fill="#1b1613"/><g fill="#1b1613" stroke="#1b1613" stroke-width="0.2" font-family="'Liberation Sans', sans-serif"><text x="101.9" y="78.6" font-size="30">Гидроизоляционная мембрана</text><text x="208.4" y="148.8" font-size="30">Сварочные швы</text><text x="820.4" y="148.8" font-size="30">Сварочные швы</text><text x="101.4" y="352.9" font-size="30">Жесткое основание</text><g stroke="#1b1613" stroke-width="0.3"><text transform="translate(787.4 68.2) scale(1 1.01)" font-size="25.83">ТЕХНОЛОГИЧЕСКИЙ</text><text transform="translate(787.8 96.5) scale(1 1.01)" font-size="25.72">ШОВ БЕТОНИРОВАНИЯ</text></g></g></g></svg></body></html>
